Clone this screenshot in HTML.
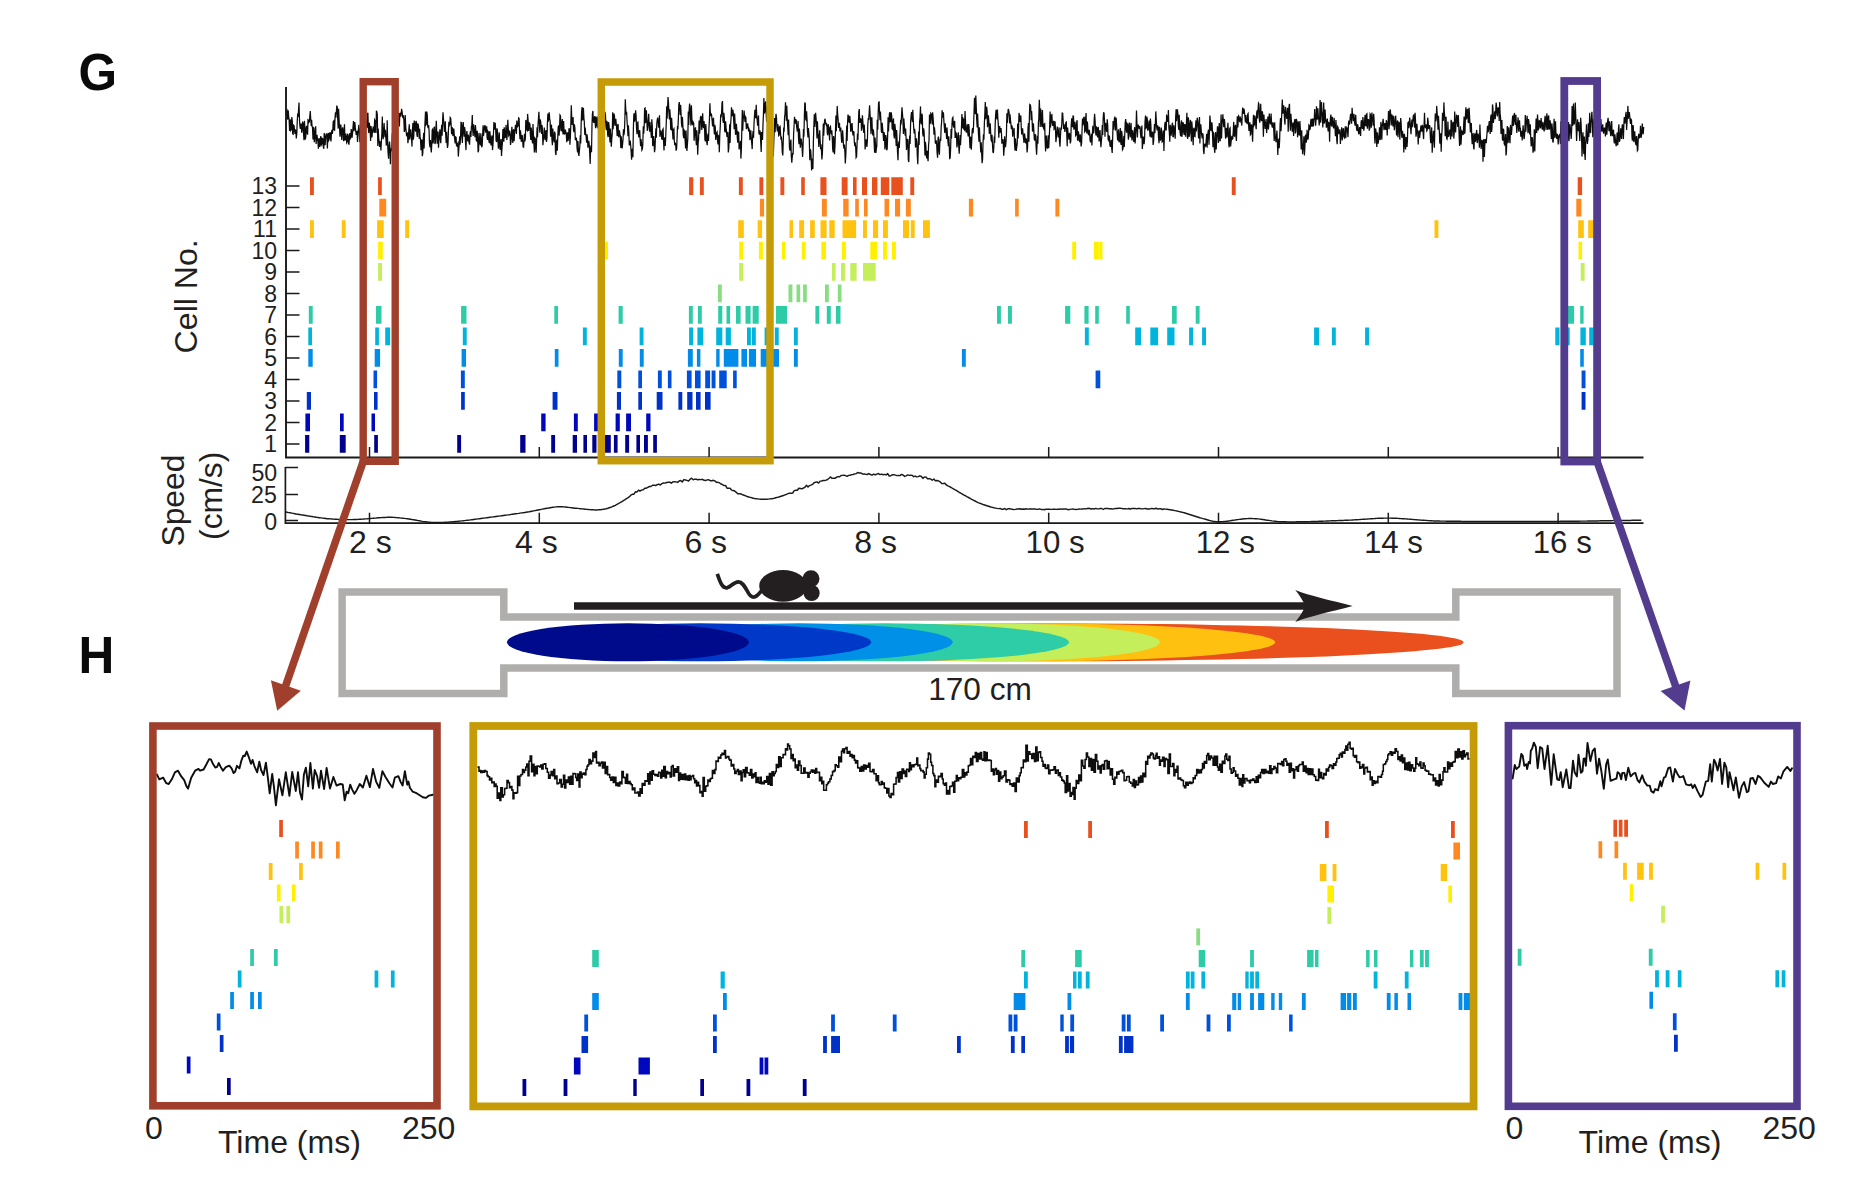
<!DOCTYPE html>
<html lang="en"><head><meta charset="utf-8"><title>Figure G-H</title>
<style>html,body{margin:0;padding:0;background:#fff;overflow:hidden;}svg{display:block;}</style>
</head><body>
<svg width="1866" height="1188" viewBox="0 0 1866 1188" font-family="Liberation Sans, Arial, Helvetica, sans-serif">
<rect width="1866" height="1188" fill="#fff"/>
<path d="M286,115.2 286.4,110.5 286.9,110 287.3,118.3 287.8,119.5 288.2,110.2 288.7,116.8 289.1,119 289.6,130.9 290,121 290.5,119.4 290.9,130.3 291.4,129.4 291.8,117.1 292.3,121.2 292.7,133.8 293.2,134.1 293.6,125.3 294.1,125.8 294.5,130.1 295,133.9 295.4,129.5 295.9,131.8 296.3,138.4 296.8,133.4 297.2,122.3 297.7,113.5 298.1,117 298.6,109.3 299,102.5 299.5,120.4 299.9,126 300.4,129 300.8,124.2 301.3,124.2 301.7,132.7 302.2,129.1 302.6,122.4 303.1,123 303.5,133.1 304,140.3 304.4,120.9 304.9,128.3 305.3,139.6 305.8,136.7 306.2,127.3 306.7,125.9 307.1,132.7 307.6,134.7 308,119.7 308.5,120.1 308.9,122.3 309.4,121.5 309.8,116.2 310.3,111 310.7,118.8 311.2,125.9 311.6,119.8 312.1,126.7 312.5,127.5 313,139.4 313.4,127.6 313.9,128.1 314.3,142.3 314.8,137.7 315.2,131.8 315.7,126.3 316.1,144 316.6,138.9 317,134.7 317.5,139.8 317.9,141.3 318.4,148.7 318.8,138.2 319.3,139.5 319.7,146.9 320.2,145.2 320.6,136.2 321.1,137.5 321.5,144.5 322,143.5 322.4,138 322.9,139.7 323.3,146.7 323.8,148.8 324.2,133.1 324.7,137.7 325.1,145.2 325.6,136.8 326,135 326.5,133.4 326.9,138 327.4,148.5 327.8,135.1 328.3,133 328.7,140.3 329.2,139.3 329.6,133 330.1,132.8 330.5,138.1 331,141.4 331.4,133.2 331.9,129.9 332.3,133.8 332.8,130.3 333.2,121.8 333.7,121.1 334.1,129.9 334.6,130.2 335,118.4 335.5,112.4 335.9,117.7 336.4,111.5 336.8,105.6 337.3,107.3 337.7,118.5 338.2,128.6 338.6,108.8 339.1,119.9 339.5,127.4 340,136.8 340.4,125.1 340.9,125.2 341.3,133.3 341.8,139.9 342.2,129.4 342.7,127.3 343.1,131.3 343.6,141.2 344,132.9 344.5,124.2 344.9,140.5 345.4,139.4 345.8,133.6 346.3,136.8 346.7,142.6 347.2,141.6 347.6,134.4 348.1,134.8 348.5,143.9 349,144.1 349.4,136.4 349.9,133.1 350.3,138.5 350.8,137.5 351.2,129.1 351.7,132.4 352.1,137.6 352.6,132.5 353,127.2 353.5,121.1 353.9,131.1 354.4,128.8 354.8,122 355.3,127.4 355.7,130.8 356.2,134.8 356.6,133.4 357.1,130.8 357.5,141.9 358,132.2 358.4,129.4 358.9,124.8 359.3,134.5 359.8,142.1 360.2,128.5 360.7,130.1 361.1,132.4 361.6,129.7 362,123.6 362.5,117 362.9,130.7 363.4,135 363.8,120.3 364.3,119.1 364.7,129.6 365.2,131.3 365.6,126.7 366.1,120.5 366.5,126 367,127.7 367.4,113.8 367.9,112.8 368.3,127.5 368.8,133.1 369.2,122.7 369.7,125.9 370.1,129.6 370.6,141 371,126.1 371.5,130.1 371.9,137.4 372.4,132.5 372.8,129.3 373.3,126.6 373.7,130.5 374.2,132.9 374.6,119.9 375.1,120.8 375.5,132.1 376,132.3 376.4,110.7 376.9,112 377.3,114.5 377.8,146 378.2,128.6 378.7,137.9 379.1,141.4 379.6,147 380,141.9 380.5,142.2 380.9,150.5 381.4,140.9 381.8,135.4 382.3,116.4 382.7,133.7 383.2,139.1 383.6,132.9 384.1,123 384.5,130.7 385,137.1 385.4,129.9 385.9,138.1 386.3,145 386.8,144.7 387.2,120.2 387.7,144.7 388.1,152.9 388.6,158.7 389,146.4 389.5,141.5 389.9,146.8 390.4,164.2 390.8,149.6 391.3,148.6 391.7,151.3 392.2,135.3 392.6,132.1 393.1,132.7 393.5,142 394,139.6 394.4,129 394.9,126.8 395.3,130.2 395.8,129.4 396.2,121.3 396.7,112.1 397.1,124 397.6,123.6 398,119.7 398.5,112.6 398.9,119.7 399.4,126.5 399.8,113.6 400.3,113.3 400.7,116.7 401.2,113 401.6,108.8 402.1,111.8 402.5,115.8 403,118 403.4,115.4 403.9,120.2 404.3,131.9 404.8,129.9 405.2,115 405.7,126.6 406.1,130.9 406.6,136.3 407,133.3 407.5,133 407.9,143.3 408.4,138.7 408.8,130 409.3,124.2 409.7,139.6 410.2,133.7 410.6,129.4 411.1,135.4 411.5,138 412,146.6 412.4,131.1 412.9,123.1 413.3,139.7 413.8,136 414.2,120.5 414.7,123.6 415.1,129.4 415.6,131.6 416,120.9 416.5,122.7 416.9,134.6 417.4,136.9 417.8,123.4 418.3,125.1 418.7,128.7 419.2,138.7 419.6,128.7 420.1,136.9 420.5,139.9 421,150.2 421.4,141 421.9,139.4 422.3,156.2 422.8,153.1 423.2,140.9 423.7,132.7 424.1,148.6 424.6,132.3 425,122.6 425.5,111.5 425.9,124.8 426.4,124 426.8,111.6 427.3,115.3 427.7,126.4 428.2,128 428.6,125 429.1,131.1 429.5,143.6 430,147.1 430.4,140.1 430.9,148.1 431.3,152.5 431.8,143.7 432.2,129.9 432.7,129.1 433.1,143.4 433.6,138.6 434,130.4 434.5,126.6 434.9,144 435.4,142.5 435.8,132.2 436.3,120.8 436.7,131.6 437.2,143.8 437.6,132.1 438.1,132.1 438.5,147.8 439,138.8 439.4,136.9 439.9,129.3 440.3,139.4 440.8,143.2 441.2,132.1 441.7,124.8 442.1,135.8 442.6,121 443,112.3 443.5,118.7 443.9,124.5 444.4,131.8 444.8,128.8 445.3,121.3 445.7,135 446.2,142.9 446.6,131.8 447.1,142.6 447.5,148 448,144.1 448.4,131 448.9,121.7 449.3,125.6 449.8,124.6 450.2,117.6 450.7,118.3 451.1,123.6 451.6,134.1 452,127.1 452.5,128.4 452.9,136 453.4,133.7 453.8,128.5 454.3,135.5 454.7,139.8 455.2,143.3 455.6,136.9 456.1,137.3 456.5,145.8 457,146.2 457.4,144 457.9,143.1 458.3,156.6 458.8,149.5 459.2,144.2 459.7,136.3 460.1,144.7 460.6,136.3 461,122.4 461.5,122.6 461.9,136.4 462.4,143 462.8,125.8 463.3,122 463.7,131.9 464.2,136.6 464.6,127 465.1,131 465.5,142.1 466,150.1 466.4,135.8 466.9,131.1 467.3,137.6 467.8,141.5 468.2,134.7 468.7,137.3 469.1,142.9 469.6,144.7 470,134.3 470.5,131.1 470.9,136.9 471.4,126.6 471.8,125.8 472.3,115 472.7,130 473.2,135.9 473.6,124.3 474.1,130 474.5,132.1 475,137.1 475.4,125 475.9,131 476.3,140.5 476.8,141 477.2,130.8 477.7,138.8 478.1,152.3 478.6,150.7 479,132.9 479.5,138.8 479.9,143 480.4,145.4 480.8,133.3 481.3,140.3 481.7,146.5 482.2,146.1 482.6,135.7 483.1,125.3 483.5,135.9 484,131.8 484.4,127.7 484.9,125.1 485.3,128.9 485.8,132.7 486.2,126.7 486.7,126.8 487.1,138 487.6,139.8 488,131.5 488.5,132.5 488.9,140.9 489.4,143.2 489.8,131.1 490.3,136 490.7,143.2 491.2,145.3 491.6,137.6 492.1,135.4 492.5,150.1 493,144.6 493.4,135.3 493.9,122.1 494.3,129.6 494.8,128.4 495.2,122.7 495.7,130.5 496.1,140.7 496.6,141.9 497,128.3 497.5,131.6 497.9,140.2 498.4,148.8 498.8,137.2 499.3,132.4 499.7,146.8 500.2,149.8 500.6,141.8 501.1,139 501.5,155.9 502,147.8 502.4,143.3 502.9,129.1 503.3,136.6 503.8,141.7 504.2,127.2 504.7,131.7 505.1,137.4 505.6,137.1 506,124.9 506.5,132.6 506.9,139.9 507.4,131.3 507.8,119.8 508.3,129.3 508.7,135.5 509.2,134.5 509.6,130.5 510.1,134.1 510.5,144.9 511,142 511.4,134.8 511.9,126.7 512.3,136.9 512.8,142.9 513.2,130.4 513.7,129.4 514.1,141.1 514.6,133.2 515,129.8 515.5,124.8 515.9,127.5 516.4,133.9 516.8,120.5 517.3,124.1 517.7,126.3 518.2,125.5 518.6,117.9 519.1,118.3 519.5,131.1 520,139.1 520.4,130.3 520.9,134.9 521.3,141.7 521.8,140.5 522.2,135 522.7,140.8 523.1,147 523.6,147.3 524,140.9 524.5,133.9 524.9,141.5 525.4,137.8 525.8,119.9 526.3,121.9 526.7,129.6 527.2,130.4 527.6,113.9 528.1,120.4 528.5,131 529,127.1 529.4,123.2 529.9,123.9 530.3,133.8 530.8,140 531.2,127.5 531.7,132 532.1,140.1 532.6,143.5 533,124.1 533.5,137.1 533.9,144.1 534.4,152.5 534.8,137.9 535.3,138.6 535.7,148.9 536.2,152.7 536.6,140.4 537.1,127.3 537.5,137.2 538,125.4 538.4,119.4 538.9,111.9 539.3,120.2 539.8,132.6 540.2,119.4 540.7,121.7 541.1,126.3 541.6,134 542,125.1 542.5,130.3 542.9,145.3 543.4,139.3 543.8,137.3 544.3,127.5 544.7,136.8 545.2,140.1 545.6,131.8 546.1,130.1 546.5,141.9 547,137.9 547.4,123.2 547.9,113.5 548.3,121.6 548.8,117.7 549.2,112.3 549.7,118.9 550.1,121 550.6,136.8 551,126.2 551.5,124.8 551.9,138.9 552.4,145.3 552.8,128.6 553.3,135.6 553.7,139.6 554.2,142.3 554.6,131.6 555.1,133.9 555.5,152.6 556,155.1 556.4,142.4 556.9,139.7 557.3,150.7 557.8,136.4 558.2,126.9 558.7,125.5 559.1,135.6 559.6,126.5 560,115.1 560.5,115.9 560.9,129.9 561.4,131.3 561.8,123 562.3,119 562.7,131.7 563.2,134.5 563.6,121 564.1,131.3 564.5,133.9 565,133.3 565.4,129.5 565.9,133 566.3,134.9 566.8,142.1 567.2,132.9 567.7,132.8 568.1,140.9 568.6,137.3 569,128.3 569.5,129.4 569.9,144.8 570.4,136.4 570.8,124.9 571.3,105.2 571.7,116.6 572.2,125 572.6,117.8 573.1,117.7 573.5,129.9 574,132.2 574.4,124.3 574.9,128 575.3,139.4 575.8,139.8 576.2,137.6 576.7,140 577.1,148.8 577.6,152.3 578,141 578.5,153.2 578.9,156 579.4,150.6 579.8,146.4 580.3,135.4 580.7,143.4 581.2,122.6 581.6,111.9 582.1,107 582.5,120.2 583,118.7 583.4,107.9 583.9,118.1 584.3,121.9 584.8,135.1 585.2,127.5 585.7,134.5 586.1,135.9 586.6,142.8 587,134.4 587.5,138.9 587.9,147.6 588.4,143.9 588.8,140.7 589.3,145.3 589.7,153.3 590.2,163.9 590.6,148.1 591.1,145.4 591.5,152.2 592,124.9 592.4,114.1 592.9,110.9 593.3,121.1 593.8,122.9 594.2,118.6 594.7,116.2 595.1,122 595.6,128.2 596,116.6 596.5,118.5 596.9,125.3 597.4,127.6 597.8,116.5 598.3,127.8 598.7,130.3 599.2,132.2 599.6,120.6 600.1,125.1 600.5,142.2 601,148.8 601.4,128 601.9,136.3 602.3,140.8 602.8,138.2 603.2,119.2 603.7,119.5 604.1,128.2 604.6,120.5 605,111.8 605.5,115.8 605.9,125.9 606.4,130.1 606.8,120.9 607.3,122.8 607.7,134.9 608.2,137.1 608.6,122 609.1,126 609.5,134 610,142.5 610.4,128.5 610.9,136.8 611.3,146.8 611.8,138.5 612.2,134.4 612.7,112.3 613.1,129.3 613.6,121.2 614,113.5 614.5,116.2 614.9,125.8 615.4,123.2 615.8,118.8 616.3,124.5 616.7,129 617.2,136.1 617.6,125.5 618.1,123.9 618.5,135.9 619,137.2 619.4,130.2 619.9,134.4 620.3,135.3 620.8,147.9 621.2,136.2 621.7,142 622.1,148.4 622.6,144.2 623,139.4 623.5,129.4 623.9,135.2 624.4,131.4 624.8,121.5 625.3,99.2 625.7,108.5 626.2,114.6 626.6,111.9 627.1,122.3 627.5,127 628,136.3 628.4,125.3 628.9,133.7 629.3,145.5 629.8,142.7 630.2,140.5 630.7,145.7 631.1,151 631.6,159.6 632,150.4 632.5,148.6 632.9,157.2 633.4,127.5 633.8,115 634.3,113.2 634.7,121.7 635.2,117.6 635.6,110.2 636.1,115.9 636.5,127.9 637,134.3 637.4,122.8 637.9,122.3 638.3,132.4 638.8,137.4 639.2,132.1 639.7,130.2 640.1,138.6 640.6,146.3 641,139.2 641.5,143.2 641.9,150 642.4,149.1 642.8,144.4 643.3,126.3 643.7,133.6 644.2,126.1 644.6,108.5 645.1,108.1 645.5,123.1 646,117.8 646.4,110.4 646.9,121.6 647.3,130.8 647.8,127.4 648.2,121 648.7,113.7 649.1,123.7 649.6,131.6 650,122 650.5,128.8 650.9,131.8 651.4,137.9 651.8,119.3 652.3,126.2 652.7,146.1 653.2,144.3 653.6,136 654.1,142.4 654.5,152.2 655,149 655.4,138.7 655.9,128.4 656.3,137.7 656.8,123.8 657.2,120.2 657.7,117.6 658.1,121.7 658.6,127.8 659,122.5 659.5,115.3 659.9,136.8 660.4,133.1 660.8,130.4 661.3,132.9 661.7,139.1 662.2,139.2 662.6,130 663.1,129.1 663.5,139.9 664,150.5 664.4,139.1 664.9,137.5 665.3,145.9 665.8,135 666.2,124.5 666.7,106.2 667.1,118.7 667.6,107.9 668,97 668.5,102.8 668.9,112.2 669.4,119.4 669.8,109.2 670.3,116.5 670.7,129.2 671.2,129.6 671.6,117.8 672.1,126.1 672.5,131.8 673,139.5 673.4,129.6 673.9,128.8 674.3,140.8 674.8,145.3 675.2,142.7 675.7,144.3 676.1,150.6 676.6,149 677,140 677.5,125.9 677.9,129.1 678.4,117.6 678.8,104.7 679.3,102 679.7,107 680.2,115 680.6,104.9 681.1,114.1 681.5,123.7 682,127.5 682.4,116.9 682.9,126.2 683.3,135.6 683.8,138 684.2,130.3 684.7,131.3 685.1,140.3 685.6,148.4 686,130.4 686.5,142.4 686.9,150.9 687.4,144.7 687.8,138.4 688.3,111.6 688.7,125 689.2,109.4 689.6,103.5 690.1,108.5 690.5,117.9 691,125.6 691.4,105.3 691.9,119.2 692.3,123.3 692.8,125.2 693.2,122.3 693.7,123.5 694.1,140.8 694.6,134.3 695,129.3 695.5,127.3 695.9,139.3 696.4,145.1 696.8,130.2 697.3,138.3 697.7,154.8 698.2,142.5 698.6,139 699.1,120.5 699.5,133.6 700,128.9 700.4,117.4 700.9,116 701.3,118.6 701.8,130 702.2,118.5 702.7,113.2 703.1,126.4 703.6,128.1 704,121 704.5,126.2 704.9,139.5 705.4,141.4 705.8,124.1 706.3,133.6 706.7,141.6 707.2,145.2 707.6,136.1 708.1,133.7 708.5,141 709,127.2 709.4,120.2 709.9,103.3 710.3,112.1 710.8,116.1 711.2,113.4 711.7,115.9 712.1,120.8 712.6,126.5 713,120 713.5,117.9 713.9,126.8 714.4,134.4 714.8,124.8 715.3,127.5 715.7,140 716.2,136.1 716.6,132.9 717.1,132 717.5,140.2 718,144.3 718.4,135.8 718.9,136.3 719.3,152.2 719.8,134.4 720.2,127.7 720.7,114.4 721.1,117.4 721.6,112.5 722,103 722.5,101.1 722.9,120.5 723.4,122.8 723.8,112.7 724.3,117.1 724.7,130.9 725.2,132.4 725.6,121.3 726.1,127.9 726.5,131.9 727,136.9 727.4,132.4 727.9,132.6 728.3,152.5 728.8,148.2 729.2,139.4 729.7,124.3 730.1,143.1 730.6,124.1 731,119.3 731.5,107.2 731.9,114.2 732.4,116.1 732.8,109.5 733.3,113 733.7,121 734.2,129.3 734.6,113.5 735.1,123 735.5,134.8 736,133.6 736.4,123.8 736.9,130.9 737.3,137.9 737.8,142.6 738.2,132.1 738.7,132.6 739.1,149.4 739.6,146.7 740,144.7 740.5,140.9 740.9,158.6 741.4,148.4 741.8,130.7 742.3,110.1 742.7,130.6 743.2,119.1 743.6,116.7 744.1,110.5 744.5,115.9 745,121.9 745.4,116.7 745.9,117.7 746.3,129 746.8,127.8 747.2,124.1 747.7,124 748.1,127.6 748.6,131.3 749,129 749.5,130.4 749.9,139.3 750.4,138.9 750.8,130.2 751.3,138.8 751.7,143 752.2,149.1 752.6,136.6 753.1,131.1 753.5,137.9 754,124.6 754.4,117.1 754.9,109.7 755.3,117.3 755.8,117.6 756.2,104.8 756.7,115 757.1,118.6 757.6,125.6 758,123.3 758.5,115.4 758.9,133.1 759.4,134.6 759.8,130.4 760.3,132.6 760.7,142.1 761.2,152 761.6,132.1 762.1,135.3 762.5,140 763,124.6 763.4,115.2 763.9,97.9 764.3,112.9 764.8,112.2 765.2,104 765.7,101.4 766.1,111.8 766.6,121.7 767,106.4 767.5,121.1 767.9,124.2 768.4,136.7 768.8,125.9 769.3,126.6 769.7,133.8 770.2,145.7 770.6,132.9 771.1,141.2 771.5,148.2 772,161.1 772.4,149 772.9,148.5 773.3,156.5 773.8,141.1 774.2,130.8 774.7,118.1 775.1,132.1 775.6,120.2 776,113.9 776.5,118 776.9,127.2 777.4,131.3 777.8,124.2 778.3,127.6 778.7,135.5 779.2,134.9 779.6,126.7 780.1,126.3 780.5,133.2 781,139.8 781.4,136.5 781.9,142.9 782.3,152.5 782.8,155.4 783.2,142.8 783.7,127.6 784.1,131.7 784.6,116.9 785,114.1 785.5,102.3 785.9,109.7 786.4,120.6 786.8,105.7 787.3,120.5 787.7,126.7 788.2,135.3 788.6,119.6 789.1,135.9 789.5,148.2 790,150.5 790.4,143.5 790.9,139.6 791.3,156.1 791.8,162.7 792.2,157.6 792.7,152.9 793.1,154.6 793.6,134.3 794,127.1 794.5,116.9 794.9,122 795.4,122.8 795.8,119.7 796.3,120 796.7,127.2 797.2,130.6 797.6,129.7 798.1,120.9 798.5,137.9 799,144.2 799.4,128.5 799.9,136.3 800.3,147.7 800.8,141.5 801.2,138.6 801.7,142.4 802.1,147.7 802.6,156.9 803,147.8 803.5,128.9 803.9,136.8 804.4,115.1 804.8,102.5 805.3,103.7 805.7,119.3 806.2,120.1 806.6,111.4 807.1,120.8 807.5,131.8 808,137.4 808.4,128 808.9,133.8 809.3,139.4 809.8,160.2 810.2,149.2 810.7,150.3 811.1,156.5 811.6,170.4 812,158.6 812.5,162.7 812.9,169 813.4,141.3 813.8,127.5 814.3,114.3 814.7,126.9 815.2,118.5 815.6,112.7 816.1,119 816.5,127 817,138.5 817.4,121.2 817.9,133.4 818.3,135.7 818.8,146.9 819.2,136.8 819.7,130.4 820.1,139.6 820.6,149.1 821,144.4 821.5,151.5 821.9,159.5 822.4,153.4 822.8,140.2 823.3,123.6 823.7,135.6 824.2,125.2 824.6,120.4 825.1,118.7 825.5,122.9 826,124.3 826.4,122.8 826.9,125.5 827.3,133.2 827.8,135.3 828.2,124.2 828.7,127.8 829.1,131.5 829.6,140.4 830,127.5 830.5,126.6 830.9,132.6 831.4,133.6 831.8,130.4 832.3,138.7 832.7,149.3 833.2,152.5 833.6,136 834.1,139.8 834.5,154.2 835,145.6 835.4,132.9 835.9,115.6 836.3,131.3 836.8,119 837.2,105.9 837.7,114.9 838.1,119.1 838.6,127.9 839,123.2 839.5,123.3 839.9,131.4 840.4,129.5 840.8,127.5 841.3,136.7 841.7,142.8 842.2,139 842.6,130.3 843.1,137.9 843.5,145.4 844,148.6 844.4,144.5 844.9,152.2 845.3,163.4 845.8,155.4 846.2,143.6 846.7,125.6 847.1,141.1 847.6,121.7 848,114.6 848.5,116.4 848.9,121.9 849.4,122.3 849.8,115.8 850.3,122.7 850.7,131.7 851.2,130 851.6,124.4 852.1,123.1 852.5,131.5 853,135.5 853.4,131.6 853.9,131.9 854.3,141.6 854.8,146.3 855.2,142.2 855.7,147.8 856.1,157.4 856.6,156.5 857,145.5 857.5,133.5 857.9,140.1 858.4,124 858.8,111.6 859.3,109 859.7,122.9 860.2,121.4 860.6,118.8 861.1,119.2 861.5,130.8 862,126.2 862.4,115.2 862.9,122 863.3,128.4 863.8,133 864.2,124.6 864.7,133.3 865.1,149.5 865.6,143 866,139.3 866.5,144 866.9,146.9 867.4,140.5 867.8,124.8 868.3,118 868.7,120 869.2,111.8 869.6,105.4 870.1,115 870.5,121.8 871,134.1 871.4,117.8 871.9,117.8 872.3,129.6 872.8,135.4 873.2,129.4 873.7,132.8 874.1,141.6 874.6,152.8 875,137.6 875.5,143.9 875.9,153 876.4,148.4 876.8,146.2 877.3,119.8 877.7,129.7 878.2,112.7 878.6,102.3 879.1,102 879.5,111.7 880,120.2 880.4,111.6 880.9,120.5 881.3,131 881.8,132.9 882.2,122.7 882.7,129.1 883.1,133.5 883.6,141 884,132.1 884.5,134.9 884.9,149.5 885.4,146.2 885.8,135.1 886.3,138.7 886.7,150.2 887.2,148.7 887.6,137.2 888.1,117.2 888.5,131.5 889,121.1 889.4,113.9 889.9,112.2 890.3,121.6 890.8,121.3 891.2,112.4 891.7,115.6 892.1,128.6 892.6,129.3 893,121.7 893.5,118.4 893.9,135.2 894.4,138.5 894.8,123.9 895.3,128.2 895.7,135.2 896.2,146 896.6,130.1 897.1,140.2 897.5,152 898,160.3 898.4,145.4 898.9,141.4 899.3,148 899.8,135.6 900.2,130.9 900.7,119.9 901.1,124.4 901.6,114 902,107.4 902.5,114 902.9,119.4 903.4,134 903.8,118.4 904.3,124.8 904.7,130.2 905.2,135.6 905.6,128.6 906.1,138.3 906.5,149.9 907,145.1 907.4,138.9 907.9,140 908.3,160 908.8,162 909.2,146.9 909.7,135.5 910.1,144 910.6,122.7 911,116.8 911.5,112 911.9,116.6 912.4,121.9 912.8,109.8 913.3,120.3 913.7,127.9 914.2,133.4 914.6,128.7 915.1,133.6 915.5,146.8 916,146.5 916.4,138.3 916.9,143.2 917.3,156 917.8,164.2 918.2,149.8 918.7,131.4 919.1,144.9 919.6,122 920,117.8 920.5,106.4 920.9,122.3 921.4,124.4 921.8,113.8 922.3,115.4 922.7,133.5 923.2,136.4 923.6,128.3 924.1,131.9 924.5,142.5 925,155.5 925.4,141.7 925.9,146.4 926.3,155.7 926.8,158.4 927.2,150.9 927.7,158.2 928.1,161.2 928.6,144.3 929,141 929.5,114.6 929.9,121.5 930.4,122.4 930.8,113.4 931.3,114.1 931.7,116.8 932.2,124.5 932.6,112.2 933.1,117.8 933.5,124.2 934,134.8 934.4,127.4 934.9,132 935.3,142.9 935.8,143.3 936.2,140.3 936.7,144.8 937.1,152.8 937.6,157.8 938,138.3 938.5,136.6 938.9,149.8 939.4,154.8 939.8,143.1 940.3,138.6 940.7,141 941.2,126.3 941.6,122.4 942.1,110.3 942.5,114.9 943,117.6 943.4,112.3 943.9,121.2 944.3,126.7 944.8,132.9 945.2,123.4 945.7,129.2 946.1,131.2 946.6,139 947,127.5 947.5,136.8 947.9,141.2 948.4,146.2 948.8,136.3 949.3,146.6 949.7,159.2 950.2,157.4 950.6,149.1 951.1,129.1 951.5,138.6 952,123.7 952.4,118.2 952.9,117.4 953.3,125.3 953.8,127.5 954.2,122 954.7,120.9 955.1,137.3 955.6,137.3 956,132.9 956.5,133.8 956.9,147.5 957.4,143.6 957.8,137.3 958.3,132.3 958.7,145.5 959.2,153.8 959.6,145.9 960.1,135 960.5,145.1 961,136.2 961.4,129.2 961.9,113.9 962.3,127.3 962.8,127.8 963.2,118.8 963.7,119.7 964.1,129.4 964.6,130 965,111 965.5,120.8 965.9,129.9 966.4,132.6 966.8,130.1 967.3,124.4 967.7,132.1 968.2,136.5 968.6,124 969.1,126.7 969.5,138.1 970,148.2 970.4,138.9 970.9,136.7 971.3,149.8 971.8,140 972.2,130.2 972.7,128.2 973.1,133.3 973.6,124.2 974,113.1 974.5,97.7 974.9,107.5 975.4,114.3 975.8,95.5 976.3,107.8 976.7,119.7 977.2,127.4 977.6,113.5 978.1,125.6 978.5,134.7 979,141.7 979.4,127.3 979.9,139.6 980.3,143.3 980.8,152.4 981.2,142.4 981.7,154.5 982.1,163.3 982.6,159 983,143.6 983.5,134.2 983.9,139.7 984.4,122.5 984.8,114.6 985.3,102.1 985.7,119.1 986.2,115.7 986.6,106.7 987.1,110.7 987.5,127.2 988,123.3 988.4,115.2 988.9,121.5 989.3,133.8 989.8,131.3 990.2,123.4 990.7,132.9 991.1,140.1 991.6,141.1 992,134.9 992.5,144.4 992.9,151.9 993.4,153 993.8,147.5 994.3,136.6 994.7,143 995.2,123.9 995.6,115.4 996.1,109.7 996.5,115.7 997,119.3 997.4,109.5 997.9,119.2 998.3,123.9 998.8,137.8 999.2,129.2 999.7,126.1 1000.1,132.6 1000.6,131.5 1001,128 1001.5,133.8 1001.9,143.6 1002.4,142 1002.8,139.1 1003.3,142.6 1003.7,155.8 1004.2,148.8 1004.6,136.3 1005.1,145.4 1005.5,147.1 1006,141.7 1006.4,135.3 1006.9,113.3 1007.3,123 1007.8,115 1008.2,109 1008.7,110.1 1009.1,112.3 1009.6,123.5 1010,114.4 1010.5,120.2 1010.9,123.7 1011.4,129.3 1011.8,125.4 1012.3,127.3 1012.7,136.7 1013.2,131.9 1013.6,130.4 1014.1,127.9 1014.5,142.7 1015,150.4 1015.4,138.4 1015.9,144.5 1016.3,150.9 1016.8,146.6 1017.2,143.6 1017.7,123.4 1018.1,138.5 1018.6,127 1019,112.9 1019.5,116 1019.9,121.9 1020.4,120.4 1020.8,115.4 1021.3,128 1021.7,134.4 1022.2,131.5 1022.6,128.4 1023.1,135.3 1023.5,137.8 1024,142.9 1024.4,133.5 1024.9,135.9 1025.3,140.8 1025.8,143.5 1026.2,138.2 1026.7,143.1 1027.1,152.5 1027.6,147.1 1028,128.1 1028.5,123.1 1028.9,141.7 1029.4,116.2 1029.8,104.4 1030.3,104.8 1030.7,106.6 1031.2,120.3 1031.6,111.1 1032.1,119.7 1032.5,131.6 1033,130 1033.4,123.4 1033.9,131.6 1034.3,139.3 1034.8,140.6 1035.2,134.2 1035.7,135.4 1036.1,146.6 1036.6,154.8 1037,145.4 1037.5,135.8 1037.9,143.7 1038.4,122.8 1038.8,119 1039.3,99.8 1039.7,109.6 1040.2,126.9 1040.6,108.6 1041.1,114.4 1041.5,123.8 1042,126.9 1042.4,109.9 1042.9,124 1043.3,127.7 1043.8,128.8 1044.2,124.1 1044.7,123.7 1045.1,139.7 1045.6,151.4 1046,136 1046.5,136 1046.9,147.2 1047.4,148.6 1047.8,144 1048.3,135.3 1048.7,148.2 1049.2,138.1 1049.6,129.7 1050.1,111.4 1050.5,127.3 1051,123.2 1051.4,115.1 1051.9,114.7 1052.3,122.1 1052.8,125.8 1053.2,123.6 1053.7,120.9 1054.1,129.2 1054.6,128.5 1055,121.2 1055.5,128.7 1055.9,142.1 1056.4,137.3 1056.8,131.8 1057.3,126.6 1057.7,132.4 1058.2,137.4 1058.6,131.8 1059.1,127.4 1059.5,141.8 1060,146.6 1060.4,137 1060.9,127.6 1061.3,129.7 1061.8,123.7 1062.2,113.1 1062.7,113.2 1063.1,120 1063.6,128.9 1064,124.1 1064.5,127.1 1064.9,132 1065.4,128.2 1065.8,122.5 1066.3,122.1 1066.7,132.4 1067.2,146.3 1067.6,127.5 1068.1,134.6 1068.5,136.5 1069,139.6 1069.4,132.8 1069.9,136.1 1070.3,143.4 1070.8,141 1071.2,125.4 1071.7,118.2 1072.1,126.3 1072.6,126.6 1073,115.4 1073.5,116.5 1073.9,129.7 1074.4,127.9 1074.8,121.7 1075.3,125.4 1075.7,135.6 1076.2,134.9 1076.6,123 1077.1,120.2 1077.5,139.4 1078,140.9 1078.4,131.4 1078.9,135.9 1079.3,138.9 1079.8,142.2 1080.2,134.3 1080.7,138.4 1081.1,146.5 1081.6,143.2 1082,131.5 1082.5,118.4 1082.9,125.5 1083.4,122.5 1083.8,117.4 1084.3,117.4 1084.7,131.8 1085.2,131.1 1085.6,119.1 1086.1,113 1086.5,131.2 1087,133.3 1087.4,121.6 1087.9,130 1088.3,134.1 1088.8,134.6 1089.2,129.9 1089.7,133.1 1090.1,140.7 1090.6,142.3 1091,137.9 1091.5,133.8 1091.9,145.5 1092.4,133.8 1092.8,126.8 1093.3,127.4 1093.7,133.4 1094.2,119.8 1094.6,113.9 1095.1,120.8 1095.5,130.9 1096,135.4 1096.4,126.4 1096.9,128.1 1097.3,136 1097.8,137.4 1098.2,126.9 1098.7,132.6 1099.1,141.5 1099.6,137.7 1100,130 1100.5,140.1 1100.9,147.3 1101.4,140.8 1101.8,136.7 1102.3,125 1102.7,135.1 1103.2,117.8 1103.6,112.2 1104.1,113.4 1104.5,121.1 1105,136.8 1105.4,122.9 1105.9,124.2 1106.3,129.2 1106.8,131.8 1107.2,119.2 1107.7,125.1 1108.1,139.3 1108.6,140.3 1109,136 1109.5,136.5 1109.9,145.2 1110.4,146.8 1110.8,143.8 1111.3,139.8 1111.7,148.2 1112.2,152.9 1112.6,140.6 1113.1,120.9 1113.5,129.8 1114,124.3 1114.4,118.8 1114.9,116.6 1115.3,130.6 1115.8,125.9 1116.2,117.8 1116.7,128 1117.1,132.3 1117.6,140.5 1118,134.8 1118.5,129.2 1118.9,141.1 1119.4,142.2 1119.8,135.2 1120.3,128.1 1120.7,142.3 1121.2,144.9 1121.6,130.8 1122.1,134.9 1122.5,149.8 1123,148.9 1123.4,141.6 1123.9,135.9 1124.3,147.1 1124.8,133.5 1125.2,122.8 1125.7,119.1 1126.1,129 1126.6,132.7 1127,123.4 1127.5,124.1 1127.9,131.7 1128.4,139.8 1128.8,125.4 1129.3,122.5 1129.7,132 1130.2,137.5 1130.6,127.5 1131.1,122.9 1131.5,135.3 1132,140.5 1132.4,130.2 1132.9,133.5 1133.3,138 1133.8,141.9 1134.2,131.2 1134.7,127.2 1135.1,143.5 1135.6,135.9 1136,129.5 1136.5,110.6 1136.9,121.8 1137.4,137.6 1137.8,127.1 1138.3,124.5 1138.7,126.5 1139.2,128.9 1139.6,126.2 1140.1,127.6 1140.5,133.8 1141,138.2 1141.4,131.2 1141.9,125.6 1142.3,149 1142.8,142.9 1143.2,137.1 1143.7,137.2 1144.1,144.1 1144.6,138.1 1145,122.2 1145.5,115.5 1145.9,128.2 1146.4,127.7 1146.8,116.7 1147.3,119.4 1147.7,130.6 1148.2,129.6 1148.6,124.9 1149.1,120.5 1149.5,128.9 1150,136.7 1150.4,118.6 1150.9,125.2 1151.3,137.1 1151.8,136.7 1152.2,132.1 1152.7,132.2 1153.1,145 1153.6,141.8 1154,133.2 1154.5,124 1154.9,133.3 1155.4,122.8 1155.8,111.4 1156.3,120.6 1156.7,127.5 1157.2,130.4 1157.6,125.4 1158.1,127.1 1158.5,137.1 1159,143.2 1159.4,126.8 1159.9,132 1160.3,140.4 1160.8,139.2 1161.2,127.6 1161.7,131 1162.1,141.9 1162.6,141.5 1163,134.2 1163.5,130.4 1163.9,151 1164.4,134.8 1164.8,124 1165.3,121.8 1165.7,129.1 1166.2,130.6 1166.6,115.6 1167.1,116.3 1167.5,121.9 1168,119.7 1168.4,110 1168.9,128.1 1169.3,131.7 1169.8,141.8 1170.2,124.9 1170.7,128.1 1171.1,135.7 1171.6,131.8 1172,125.1 1172.5,122.7 1172.9,136.7 1173.4,136.7 1173.8,125.3 1174.3,129 1174.7,133.2 1175.2,138.7 1175.6,118.2 1176.1,109.3 1176.5,121.2 1177,113.7 1177.4,109.4 1177.9,113.8 1178.3,125.7 1178.8,129.9 1179.2,114.8 1179.7,128.3 1180.1,132.1 1180.6,136.3 1181,124.1 1181.5,120.4 1181.9,137 1182.4,131.7 1182.8,122.1 1183.3,123.4 1183.7,132.5 1184.2,134.9 1184.6,124.7 1185.1,124.8 1185.5,136.7 1186,129.8 1186.4,123.2 1186.9,112.7 1187.3,137.3 1187.8,138.8 1188.2,117.3 1188.7,120 1189.1,136.8 1189.6,133.7 1190,123.8 1190.5,119.9 1190.9,130.5 1191.4,141.5 1191.8,121.6 1192.3,128.1 1192.7,136.3 1193.2,145.2 1193.6,129.2 1194.1,127.7 1194.5,136.2 1195,136.6 1195.4,129.7 1195.9,120.4 1196.3,131.5 1196.8,123.2 1197.2,117.7 1197.7,120.9 1198.1,129.9 1198.6,138.4 1199,124.1 1199.5,117 1199.9,143.4 1200.4,129.1 1200.8,124.4 1201.3,131.3 1201.7,134.8 1202.2,138.3 1202.6,133.2 1203.1,135.1 1203.5,150.8 1204,154.1 1204.4,143.8 1204.9,145.2 1205.3,146.2 1205.8,145.3 1206.2,140.2 1206.7,133.7 1207.1,147.6 1207.6,137.7 1208,132.4 1208.5,129.7 1209,144.8 1209.4,132.3 1209.9,115.5 1210.3,120.1 1210.8,130 1211.2,130.9 1211.7,122.3 1212.1,123.8 1212.6,136.6 1213,147.2 1213.5,132.8 1213.9,133.4 1214.4,149.5 1214.8,152.8 1215.3,139.5 1215.7,132.1 1216.2,149.5 1216.6,141.6 1217.1,133.5 1217.5,126.4 1218,129.1 1218.4,142.9 1218.9,129.2 1219.3,123 1219.8,140.5 1220.2,141.3 1220.7,127.5 1221.1,114.4 1221.6,138.5 1222,121.5 1222.5,120.2 1222.9,114.4 1223.4,123.9 1223.8,127.1 1224.3,119.1 1224.7,121.9 1225.2,131.1 1225.6,138.8 1226.1,130.4 1226.5,127.8 1227,137.5 1227.4,132.5 1227.9,122.9 1228.3,130.9 1228.8,144.5 1229.2,147.3 1229.7,128.7 1230.1,128.1 1230.6,146.4 1231,142.6 1231.5,138.2 1231.9,135.9 1232.4,139.7 1232.8,138.3 1233.3,130.4 1233.7,121.9 1234.2,135.7 1234.6,136.1 1235.1,126.3 1235.5,124.8 1236,135.8 1236.4,140.9 1236.9,126.7 1237.3,116.3 1237.8,127.5 1238.2,121 1238.7,116 1239.1,116.7 1239.6,121.3 1240,121.8 1240.5,117.8 1240.9,118.6 1241.4,121 1241.8,125.6 1242.3,112.8 1242.7,107.6 1243.2,113.9 1243.6,112.3 1244.1,108.7 1244.5,112.8 1245,117.5 1245.4,122.5 1245.9,115 1246.3,119.6 1246.8,123.1 1247.2,123.4 1247.7,114.1 1248.1,113.5 1248.6,124.7 1249,130.9 1249.5,123.7 1249.9,122.4 1250.4,134.7 1250.8,134.2 1251.3,125 1251.7,125.1 1252.2,132.2 1252.6,141.7 1253.1,124.1 1253.5,114.7 1254,125.4 1254.4,124.6 1254.9,115.5 1255.3,118.7 1255.8,125.6 1256.2,129.3 1256.7,112.9 1257.1,110.3 1257.6,118.5 1258,110.2 1258.5,103.2 1258.9,103.9 1259.4,120.1 1259.8,122.6 1260.3,111.9 1260.7,103.8 1261.2,120 1261.6,120.9 1262.1,111.2 1262.5,112.1 1263,123 1263.4,136.8 1263.9,114.5 1264.3,120.7 1264.8,124.6 1265.2,129 1265.7,122.7 1266.1,119 1266.6,133.1 1267,128.3 1267.5,123.5 1267.9,116.6 1268.4,129.4 1268.8,124.4 1269.3,113.5 1269.7,119.4 1270.2,123 1270.6,124.2 1271.1,113.6 1271.5,122 1272,126.3 1272.4,127.7 1272.9,122.4 1273.3,123.9 1273.8,130.7 1274.2,140.9 1274.7,122.3 1275.1,134.9 1275.6,138.2 1276,142.3 1276.5,136.4 1276.9,130.5 1277.4,142.3 1277.8,155 1278.3,140.3 1278.7,139.6 1279.2,148.2 1279.6,141.1 1280.1,124.2 1280.5,118.1 1281,131.2 1281.4,124 1281.9,108.6 1282.3,99.6 1282.8,113.6 1283.2,111.1 1283.7,105.2 1284.1,110.6 1284.6,121 1285,124.6 1285.5,106.9 1285.9,109 1286.4,116.2 1286.8,119 1287.3,112.7 1287.7,107.7 1288.2,131.8 1288.6,118.4 1289.1,105.4 1289.5,103.8 1290,123 1290.4,130.6 1290.9,113.7 1291.3,120.1 1291.8,125.2 1292.2,131.6 1292.7,127.5 1293.1,122.6 1293.6,135.9 1294,126.2 1294.5,121.2 1294.9,119.1 1295.4,133.5 1295.8,131.5 1296.3,118.8 1296.7,120.4 1297.2,125.8 1297.6,137.2 1298.1,121.5 1298.5,123.2 1299,134.3 1299.4,135.6 1299.9,121.1 1300.3,128.5 1300.8,138 1301.2,149.5 1301.7,130.2 1302.1,139.7 1302.6,154.2 1303,148.8 1303.5,145 1303.9,136.2 1304.4,155.4 1304.8,148.8 1305.3,136.7 1305.7,134.6 1306.2,142.7 1306.6,140.2 1307.1,129.8 1307.5,135.9 1308,139.7 1308.4,136.4 1308.9,125.2 1309.3,125.8 1309.8,129.5 1310.2,129.1 1310.7,121 1311.1,118.8 1311.6,125.3 1312,126.8 1312.5,119.2 1312.9,119.2 1313.4,126.4 1313.8,119.7 1314.3,118.5 1314.7,109.1 1315.2,119.9 1315.6,125.8 1316.1,119.3 1316.5,106.2 1317,118 1317.4,119.5 1317.9,108.2 1318.3,116.1 1318.8,119.7 1319.2,125.5 1319.7,116.6 1320.1,100.1 1320.6,122.6 1321,119.2 1321.5,101.9 1321.9,112.2 1322.4,115.1 1322.8,127.5 1323.3,114.3 1323.7,102.6 1324.2,123.6 1324.6,121.7 1325.1,109.5 1325.5,119 1326,122 1326.4,127.7 1326.9,120.2 1327.3,118.6 1327.8,127.4 1328.2,131.4 1328.7,122.6 1329.1,122.8 1329.6,141.8 1330,125.6 1330.5,117.3 1330.9,114.5 1331.4,125.7 1331.8,126 1332.3,116.7 1332.7,122 1333.2,125.4 1333.6,128.5 1334.1,117.9 1334.5,124.6 1335,127.3 1335.4,136.3 1335.9,120.1 1336.3,126.6 1336.8,140.8 1337.2,144.2 1337.7,126.7 1338.1,127.4 1338.6,132.2 1339,134 1339.5,130.5 1339.9,129.4 1340.4,143.9 1340.8,136.9 1341.3,133.2 1341.7,127.3 1342.2,140.3 1342.6,137.4 1343.1,129.3 1343.5,128.3 1344,136.7 1344.4,137.6 1344.9,134.5 1345.3,126.4 1345.8,138.3 1346.2,131.3 1346.7,127.6 1347.1,128.3 1347.6,132.5 1348,137.1 1348.5,123.5 1348.9,120.7 1349.4,124.6 1349.8,122.9 1350.3,116.1 1350.7,113.9 1351.2,117.7 1351.6,123.7 1352.1,107.7 1352.5,114 1353,117.3 1353.4,121.2 1353.9,113.8 1354.3,118.7 1354.8,124.1 1355.2,125.6 1355.7,114.8 1356.1,122.6 1356.6,128.8 1357,130.9 1357.5,124.9 1357.9,125.2 1358.4,131.9 1358.8,134.3 1359.3,130.1 1359.7,127.1 1360.2,133.3 1360.6,135.9 1361.1,122.1 1361.5,120.2 1362,126.8 1362.4,128.9 1362.9,117 1363.3,121.8 1363.8,130.7 1364.2,127.6 1364.7,119.3 1365.1,114.9 1365.6,125.4 1366,125.7 1366.5,114.2 1366.9,113.8 1367.4,128.8 1367.8,122.8 1368.3,119.2 1368.7,120.4 1369.2,130.7 1369.6,126.5 1370.1,114 1370.5,114.7 1371,127.3 1371.4,126.8 1371.9,112.5 1372.3,116.5 1372.8,119.6 1373.2,125.6 1373.7,113.9 1374.1,120.4 1374.6,136.8 1375,143.5 1375.5,128.5 1375.9,130.1 1376.4,137.1 1376.8,147.1 1377.3,132.3 1377.7,135.4 1378.2,143.6 1378.6,139.7 1379.1,135.6 1379.5,127.3 1380,140.1 1380.4,138.1 1380.9,121.9 1381.3,125.5 1381.8,139.7 1382.2,127 1382.7,122.9 1383.1,118.7 1383.6,124.4 1384,130.3 1384.5,125 1384.9,123.1 1385.4,128.8 1385.8,129.8 1386.3,120.3 1386.7,121.5 1387.2,135.4 1387.6,125.8 1388.1,122.9 1388.5,110.9 1389,129.3 1389.4,123.6 1389.9,110.9 1390.3,109.5 1390.8,116.4 1391.2,125.4 1391.7,115 1392.1,115.2 1392.6,123.5 1393,126.4 1393.5,115.8 1393.9,123.8 1394.4,130.2 1394.8,123.7 1395.3,117.2 1395.7,115.7 1396.2,128 1396.6,135.5 1397.1,123.9 1397.5,120.4 1398,137.3 1398.4,130.5 1398.9,122.3 1399.3,122.7 1399.8,139.6 1400.2,130.5 1400.7,118.1 1401.1,122.3 1401.6,135 1402,137.9 1402.5,130.8 1402.9,134.8 1403.4,136.4 1403.8,152.6 1404.3,133.8 1404.7,136.3 1405.2,147 1405.6,149.5 1406.1,137.1 1406.5,139 1407,147 1407.4,141 1407.9,122.7 1408.3,122.3 1408.8,128.1 1409.2,124.6 1409.7,117.6 1410.1,121.5 1410.6,128.5 1411,134.2 1411.5,124.4 1411.9,119.6 1412.4,127.3 1412.8,120.7 1413.3,115.7 1413.7,115.2 1414.2,122 1414.6,127.7 1415.1,112.7 1415.5,120.8 1416,136.7 1416.4,134.2 1416.9,123.9 1417.3,129.9 1417.8,134.3 1418.2,144.4 1418.7,133.6 1419.1,130.2 1419.6,137.9 1420,134.3 1420.5,130.3 1420.9,125.6 1421.4,129.9 1421.8,131.7 1422.3,124.9 1422.7,126.3 1423.2,133.7 1423.6,139.1 1424.1,124.8 1424.5,112.7 1425,126.8 1425.4,127.4 1425.9,125.8 1426.3,124.5 1426.8,130.9 1427.2,130.3 1427.7,117.7 1428.1,120.7 1428.6,128.9 1429,127.1 1429.5,125.1 1429.9,126.9 1430.4,138.8 1430.8,143.3 1431.3,134.9 1431.7,127.4 1432.2,152.7 1432.6,143.1 1433.1,136.7 1433.5,130.9 1434,140.7 1434.4,147.8 1434.9,125.4 1435.3,113.5 1435.8,121.3 1436.2,119.2 1436.7,105.9 1437.1,112.5 1437.6,118.7 1438,129.8 1438.5,115.7 1438.9,124.2 1439.4,132.4 1439.8,143.6 1440.3,134 1440.7,133.9 1441.2,151.7 1441.6,137.4 1442.1,129.7 1442.5,112.8 1443,118.4 1443.4,120.8 1443.9,102.4 1444.3,111.6 1444.8,117.9 1445.2,136.3 1445.7,121.1 1446.1,116.8 1446.6,138.4 1447,139.1 1447.5,136.2 1447.9,121.5 1448.4,136.8 1448.8,135.2 1449.3,133.5 1449.7,129.5 1450.2,134.2 1450.6,139.5 1451.1,119.8 1451.5,121.3 1452,136.6 1452.4,128.9 1452.9,123 1453.3,122 1453.8,138.6 1454.2,133.2 1454.7,111.4 1455.1,121.9 1455.6,132.4 1456,123.6 1456.5,115.5 1456.9,115.9 1457.4,123 1457.8,127 1458.3,115.1 1458.7,123.2 1459.2,137.5 1459.6,145.9 1460.1,133.6 1460.5,126.2 1461,144.8 1461.4,137 1461.9,131.1 1462.3,131.7 1462.8,134 1463.2,134.9 1463.7,124.5 1464.1,116.5 1464.6,133.8 1465,131.7 1465.5,114.5 1465.9,107.3 1466.4,119.3 1466.8,117.4 1467.3,109.6 1467.7,109.4 1468.2,122.1 1468.6,122.9 1469.1,107.7 1469.5,115.1 1470,124.6 1470.4,132.5 1470.9,123.8 1471.3,122.9 1471.8,137.8 1472.2,144.3 1472.7,134 1473.1,133.7 1473.6,147.4 1474,149.4 1474.5,134.9 1474.9,133.3 1475.4,141.8 1475.8,139.7 1476.3,133.3 1476.7,129.9 1477.2,143 1477.6,141.1 1478.1,133.5 1478.5,136.4 1479,139 1479.4,147.7 1479.9,124.4 1480.3,135 1480.8,143.9 1481.2,149 1481.7,141.3 1482.1,139.8 1482.6,144.6 1483,161.7 1483.5,140.8 1483.9,139.1 1484.4,157.1 1484.8,145.3 1485.3,139.6 1485.7,139.4 1486.2,143.2 1486.6,138.3 1487.1,132 1487.5,125.7 1488,132.3 1488.4,130.7 1488.9,124.2 1489.3,121 1489.8,129.2 1490.2,133.9 1490.7,117.3 1491.1,114.5 1491.6,132 1492,127.6 1492.5,104.4 1492.9,107.6 1493.4,123 1493.8,118.8 1494.3,115.8 1494.7,111.2 1495.2,119.2 1495.6,113.5 1496.1,102.7 1496.5,105.5 1497,114.1 1497.4,116.5 1497.9,108.1 1498.3,107.9 1498.8,110.2 1499.2,120.9 1499.7,101.9 1500.1,113.8 1500.6,117.7 1501,133.9 1501.5,120.7 1501.9,120.6 1502.4,139.3 1502.8,140.7 1503.3,128.7 1503.7,129.8 1504.2,143.9 1504.6,144.6 1505.1,140.9 1505.5,134 1506,155.4 1506.4,152.4 1506.9,137.3 1507.3,126 1507.8,143.1 1508.2,141.9 1508.7,127.2 1509.1,131.1 1509.6,140 1510,143.2 1510.5,124.9 1510.9,130.5 1511.4,134.9 1511.8,130 1512.3,120.3 1512.7,115.5 1513.2,125.9 1513.6,123 1514.1,114.1 1514.5,113.8 1515,121.8 1515.4,124.8 1515.9,114.9 1516.3,123.8 1516.8,133 1517.2,126.7 1517.7,121.8 1518.1,117.4 1518.6,130.7 1519,131.6 1519.5,120.3 1519.9,127.2 1520.4,128.4 1520.8,136.6 1521.3,131.3 1521.7,131.7 1522.2,140.5 1522.6,134 1523.1,125.2 1523.5,131.1 1524,139 1524.4,137.6 1524.9,128.6 1525.3,115.1 1525.8,131.6 1526.2,124.6 1526.7,120.7 1527.1,115.7 1527.6,124.2 1528,133.1 1528.5,119.1 1528.9,122 1529.4,132.2 1529.8,134.3 1530.3,124.2 1530.7,137.1 1531.2,146.4 1531.6,143.5 1532.1,137.1 1532.5,138.8 1533,152.7 1533.4,150.5 1533.9,146.9 1534.3,129.2 1534.8,151.4 1535.2,135.2 1535.7,131.1 1536.1,118.4 1536.6,132.8 1537,130.2 1537.5,114.6 1537.9,120.5 1538.4,130.4 1538.8,126.2 1539.3,120.7 1539.7,120.9 1540.2,128.4 1540.6,126.5 1541.1,118.1 1541.5,123.4 1542,128.1 1542.4,129.6 1542.9,121.9 1543.3,124.6 1543.8,130 1544.2,131.4 1544.7,120.4 1545.1,115.9 1545.6,120.8 1546,129.9 1546.5,119.9 1546.9,113.3 1547.4,127.3 1547.8,129.8 1548.3,116.5 1548.7,115.4 1549.2,129.6 1549.6,127.7 1550.1,120.4 1550.5,124.3 1551,133.1 1551.4,139.1 1551.9,123.3 1552.3,127.8 1552.8,141.5 1553.2,142.5 1553.7,131.5 1554.1,118.8 1554.6,135.9 1555,138.1 1555.5,121.2 1555.9,132.6 1556.4,135.7 1556.8,138.9 1557.3,133.8 1557.7,135.3 1558.2,144.5 1558.6,137.7 1559.1,135.7 1559.5,135 1560,137.8 1560.4,144.1 1560.9,121.2 1561.3,125.5 1561.8,145.2 1562.2,143.7 1562.7,129.9 1563.1,128.8 1563.6,141 1564,141.3 1564.5,138.2 1564.9,132.7 1565.4,145.7 1565.8,144.3 1566.3,134.4 1566.7,137.4 1567.2,142.5 1567.6,140.1 1568.1,125.6 1568.5,122 1569,141.3 1569.4,132.7 1569.9,124.2 1570.3,127.5 1570.8,134 1571.2,138.9 1571.7,128.6 1572.1,106 1572.6,125.7 1573,124.5 1573.5,103.6 1573.9,118.8 1574.4,124.5 1574.8,115.6 1575.3,102.4 1575.7,114.8 1576.2,129.6 1576.6,141 1577.1,129 1577.5,119.3 1578,125.1 1578.4,131.1 1578.9,122 1579.3,130.7 1579.8,141 1580.2,128.8 1580.7,117.7 1581.1,124.1 1581.6,138.7 1582,156.6 1582.5,143.9 1582.9,132.3 1583.4,141.5 1583.8,154 1584.3,136.6 1584.7,152.9 1585.2,159.9 1585.6,144.3 1586.1,135.6 1586.5,124.2 1587,140.5 1587.4,144 1587.9,139.5 1588.3,123.2 1588.8,136.9 1589.2,131 1589.7,112.8 1590.1,129.4 1590.6,133.1 1591,122.5 1591.5,116.7 1591.9,111.7 1592.4,122.8 1592.8,137.3 1593.3,127 1593.7,118.7 1594.2,135.3 1594.6,136.6 1595.1,123.2 1595.5,120.4 1596,135.1 1596.4,139 1596.9,126.5 1597.3,133.7 1597.8,136.7 1598.2,144.4 1598.7,131.9 1599.1,128.3 1599.6,133.4 1600,137.3 1600.5,128.2 1600.9,119 1601.4,128.8 1601.8,131.7 1602.3,128.2 1602.7,124.3 1603.2,130.8 1603.6,133.6 1604.1,129.2 1604.5,127.7 1605,129.9 1605.4,136.5 1605.9,126.1 1606.3,122.5 1606.8,134.7 1607.2,129.9 1607.7,120.6 1608.1,117.9 1608.6,125.3 1609,131.2 1609.5,121.3 1609.9,126.1 1610.4,132.4 1610.8,136.3 1611.3,123.4 1611.7,121.1 1612.2,134.8 1612.6,136.2 1613.1,130.7 1613.5,129.7 1614,141 1614.4,143.4 1614.9,134.2 1615.3,138.2 1615.8,144 1616.2,146.2 1616.7,140.5 1617.1,132.6 1617.6,145.3 1618,142.1 1618.5,128.6 1618.9,124.4 1619.4,141.8 1619.8,140.4 1620.3,135.4 1620.7,128.2 1621.2,135.5 1621.6,139 1622.1,126 1622.5,124.4 1623,131 1623.4,139.1 1623.9,123.5 1624.3,117.1 1624.8,123.5 1625.2,121.6 1625.7,114.8 1626.1,111.9 1626.6,129.9 1627,122.6 1627.5,115.7 1627.9,105.9 1628.4,118.7 1628.8,114.2 1629.3,112.1 1629.7,115.7 1630.2,122 1630.6,123.9 1631.1,119.4 1631.5,119.9 1632,136.7 1632.4,140.8 1632.9,125.1 1633.3,126.4 1633.8,142.1 1634.2,138.9 1634.7,131.2 1635.1,137.3 1635.6,143.9 1636,144.4 1636.5,136 1636.9,139.1 1637.4,150.7 1637.8,150.1 1638.3,137.1 1638.7,133.8 1639.2,138.3 1639.6,137 1640.1,134.6 1640.5,125.7 1641,138 1641.4,135.8 1641.9,130.3 1642.3,123.6 1642.8,132.7 1643.2,134.3 1643.7,127" fill="none" stroke="#0c0c0c" stroke-width="1.25" stroke-linejoin="miter" stroke-miterlimit="4"/>
<path d="M310 177.2h3.9v17.7h-3.9zM378.1 177.2h3.7v17.7h-3.7zM689.1 177.2h4.2v17.7h-4.2zM699.9 177.2h3.9v17.7h-3.9zM738.9 177.2h3.9v17.7h-3.9zM759.4 177.2h3.9v17.7h-3.9zM780.4 177.2h3.9v17.7h-3.9zM801.2 177.2h3.6v17.7h-3.6zM820.4 177.2h6.1v17.7h-6.1zM841.7 177.2h5.9v17.7h-5.9zM853 177.2h3.6v17.7h-3.6zM862 177.2h5.1v17.7h-5.1zM872 177.2h5.4v17.7h-5.4zM880.8 177.2h8.5v17.7h-8.5zM891.3 177.2h11.5v17.7h-11.5zM910.3 177.2h3.9v17.7h-3.9zM1231.8 177.2h3.9v17.7h-3.9zM1577.7 177.2h4.4v17.7h-4.4z" fill="#e8501e"/>
<path d="M379.3 198.7h6.9v17.7h-6.9zM759.9 198.7h4.2v17.7h-4.2zM821.9 198.7h4.9v17.7h-4.9zM843.2 198.7h5.4v17.7h-5.4zM855.2 198.7h3.6v17.7h-3.6zM864 198.7h3.6v17.7h-3.6zM884.5 198.7h4.6v17.7h-4.6zM895 198.7h5.1v17.7h-5.1zM905.9 198.7h4.9v17.7h-4.9zM968.9 198.7h4.2v17.7h-4.2zM1015.1 198.7h3.6v17.7h-3.6zM1055.4 198.7h3.9v17.7h-3.9zM1576.3 198.7h5.1v17.7h-5.1z" fill="#ff8820"/>
<path d="M310 220.2h3.9v17.7h-3.9zM341.8 220.2h3.9v17.7h-3.9zM377.1 220.2h6.6v17.7h-6.6zM405.2 220.2h3.9v17.7h-3.9zM738.2 220.2h5.6v17.7h-5.6zM757.7 220.2h4.4v17.7h-4.4zM789.5 220.2h3.6v17.7h-3.6zM799.2 220.2h4.9v17.7h-4.9zM810.1 220.2h4.7v17.7h-4.7zM820.5 220.2h6.1v17.7h-6.1zM829.3 220.2h5.4v17.7h-5.4zM842.5 220.2h13.6v17.7h-13.6zM863 220.2h3.9v17.7h-3.9zM873 220.2h5.1v17.7h-5.1zM883 220.2h4.9v17.7h-4.9zM903 220.2h6.1v17.7h-6.1zM910.8 220.2h3.9v17.7h-3.9zM923 220.2h6.9v17.7h-6.9zM1434.5 220.2h3.9v17.7h-3.9zM1578.2 220.2h5.6v17.7h-5.6zM1588.2 220.2h5.8v17.7h-5.8z" fill="#ffc20e"/>
<path d="M378.1 241.7h4.7v17.7h-4.7zM603.8 241.7h4.2v17.7h-4.2zM739.2 241.7h4.1v17.7h-4.1zM758.9 241.7h4v17.7h-4zM781.9 241.7h3.7v17.7h-3.7zM801.9 241.7h3.7v17.7h-3.7zM821.3 241.7h4.7v17.7h-4.7zM842 241.7h3.9v17.7h-3.9zM870.3 241.7h7.1v17.7h-7.1zM883 241.7h3.9v17.7h-3.9zM892 241.7h3.9v17.7h-3.9zM1072.2 241.7h3.9v17.7h-3.9zM1093.9 241.7h5v17.7h-5zM1099.3 241.7h3.2v17.7h-3.2zM1578.5 241.7h3.6v17.7h-3.6z" fill="#fff000"/>
<path d="M378.1 263.1h3.9v17.7h-3.9zM739.2 263.1h3.9v17.7h-3.9zM832 263.1h3.6v17.7h-3.6zM841 263.1h4.2v17.7h-4.2zM850.3 263.1h6.3v17.7h-6.3zM863 263.1h12.7v17.7h-12.7zM1580.7 263.1h3.9v17.7h-3.9z" fill="#c4ee5a"/>
<path d="M717.9 284.6h3.9v17.7h-3.9zM788.5 284.6h3.9v17.7h-3.9zM796.5 284.6h3.7v17.7h-3.7zM803.1 284.6h3.7v17.7h-3.7zM825 284.6h3.8v17.7h-3.8zM837.8 284.6h3.7v17.7h-3.7z" fill="#88dd82"/>
<path d="M308.8 306.1h3.9v17.7h-3.9zM375.9 306.1h5.6v17.7h-5.6zM461.1 306.1h5.4v17.7h-5.4zM554.3 306.1h3.7v17.7h-3.7zM618.6 306.1h4.1v17.7h-4.1zM688.9 306.1h3.9v17.7h-3.9zM697.9 306.1h3.9v17.7h-3.9zM718.2 306.1h4.1v17.7h-4.1zM726.5 306.1h3.6v17.7h-3.6zM736 306.1h4.6v17.7h-4.6zM745.5 306.1h5.1v17.7h-5.1zM752.6 306.1h6.1v17.7h-6.1zM776 306.1h11v17.7h-11zM815.4 306.1h3.8v17.7h-3.8zM826.8 306.1h4v17.7h-4zM835.9 306.1h4.6v17.7h-4.6zM997 306.1h3.9v17.7h-3.9zM1008 306.1h3.9v17.7h-3.9zM1065.1 306.1h5.2v17.7h-5.2zM1084.4 306.1h4.2v17.7h-4.2zM1095.2 306.1h3.6v17.7h-3.6zM1126.2 306.1h3.6v17.7h-3.6zM1172 306.1h4.7v17.7h-4.7zM1195.7 306.1h3.9v17.7h-3.9zM1566 306.1h8.1v17.7h-8.1zM1580.2 306.1h3.4v17.7h-3.4z" fill="#2dcca6"/>
<path d="M308.3 327.6h3.7v17.7h-3.7zM375.2 327.6h3.7v17.7h-3.7zM385.2 327.6h4.9v17.7h-4.9zM462.8 327.6h3.9v17.7h-3.9zM582.9 327.6h3.9v17.7h-3.9zM639.6 327.6h3.9v17.7h-3.9zM689.1 327.6h3.9v17.7h-3.9zM697.4 327.6h5.9v17.7h-5.9zM716.2 327.6h6.1v17.7h-6.1zM725.7 327.6h5.2v17.7h-5.2zM747 327.6h3.9v17.7h-3.9zM751.9 327.6h3.9v17.7h-3.9zM764.6 327.6h3.9v17.7h-3.9zM774.8 327.6h3.9v17.7h-3.9zM793.9 327.6h3.9v17.7h-3.9zM1084.9 327.6h3.9v17.7h-3.9zM1135.2 327.6h5.8v17.7h-5.8zM1150.3 327.6h7.8v17.7h-7.8zM1167.2 327.6h7.3v17.7h-7.3zM1189.1 327.6h3.9v17.7h-3.9zM1202.1 327.6h3.9v17.7h-3.9zM1314.1 327.6h4.9v17.7h-4.9zM1331.9 327.6h3.9v17.7h-3.9zM1365.1 327.6h3.9v17.7h-3.9zM1555.3 327.6h4.2v17.7h-4.2zM1565.5 327.6h4.2v17.7h-4.2zM1580.4 327.6h5.4v17.7h-5.4zM1589.2 327.6h4.3v17.7h-4.3z" fill="#00b4dc"/>
<path d="M308.3 349.1h4.4v17.7h-4.4zM374.7 349.1h5.4v17.7h-5.4zM461.6 349.1h4.4v17.7h-4.4zM554.8 349.1h3.7v17.7h-3.7zM618.8 349.1h3.9v17.7h-3.9zM639.8 349.1h3.9v17.7h-3.9zM687.9 349.1h4.9v17.7h-4.9zM696.9 349.1h3.5v17.7h-3.5zM716.2 349.1h3.4v17.7h-3.4zM723.8 349.1h14.6v17.7h-14.6zM741.4 349.1h5.6v17.7h-5.6zM748.9 349.1h7.1v17.7h-7.1zM760.7 349.1h18.3v17.7h-18.3zM793.9 349.1h3.9v17.7h-3.9zM961.9 349.1h3.9v17.7h-3.9zM1580.2 349.1h3.6v17.7h-3.6z" fill="#008ce8"/>
<path d="M373.5 370.6h3.6v17.7h-3.6zM460.9 370.6h3.9v17.7h-3.9zM617.3 370.6h4v17.7h-4zM638.3 370.6h3.7v17.7h-3.7zM657.9 370.6h3.9v17.7h-3.9zM667.9 370.6h3.6v17.7h-3.6zM686.9 370.6h4.7v17.7h-4.7zM695 370.6h5.6v17.7h-5.6zM705.2 370.6h4.9v17.7h-4.9zM711.6 370.6h3.9v17.7h-3.9zM719.2 370.6h7.5v17.7h-7.5zM733.1 370.6h3.6v17.7h-3.6zM1095.6 370.6h4.7v17.7h-4.7zM1581.6 370.6h3.9v17.7h-3.9z" fill="#0050dc"/>
<path d="M306.8 392.1h4.2v17.7h-4.2zM374 392.1h3.6v17.7h-3.6zM461.1 392.1h3.7v17.7h-3.7zM552.6 392.1h4.9v17.7h-4.9zM616.9 392.1h4.1v17.7h-4.1zM638.3 392.1h3.7v17.7h-3.7zM656.7 392.1h5.8v17.7h-5.8zM678.4 392.1h3.9v17.7h-3.9zM687.2 392.1h5.3v17.7h-5.3zM696 392.1h4.6v17.7h-4.6zM705 392.1h5.6v17.7h-5.6zM1581.6 392.1h3.9v17.7h-3.9z" fill="#0032c8"/>
<path d="M305.4 413.6h4.6v17.7h-4.6zM340 413.6h3.7v17.7h-3.7zM371.5 413.6h3.5v17.7h-3.5zM541.2 413.6h4.4v17.7h-4.4zM573.9 413.6h3.9v17.7h-3.9zM594.1 413.6h3.9v17.7h-3.9zM615.6 413.6h4.2v17.7h-4.2zM626.1 413.6h4.9v17.7h-4.9zM646.2 413.6h4.3v17.7h-4.3z" fill="#0008be"/>
<path d="M305.1 435.1h4.2v17.7h-4.2zM339.8 435.1h5.9v17.7h-5.9zM374.2 435.1h3.7v17.7h-3.7zM457.2 435.1h3.9v17.7h-3.9zM520.2 435.1h5.3v17.7h-5.3zM551.2 435.1h3.9v17.7h-3.9zM572.7 435.1h4.3v17.7h-4.3zM583.4 435.1h3.6v17.7h-3.6zM592.3 435.1h4.2v17.7h-4.2zM603 435.1h7.8v17.7h-7.8zM613.9 435.1h3.7v17.7h-3.7zM625.2 435.1h3.9v17.7h-3.9zM636.4 435.1h3.6v17.7h-3.6zM644 435.1h3.9v17.7h-3.9zM653.2 435.1h3.7v17.7h-3.7z" fill="#00008c"/>
<g stroke="#1a1a1a" stroke-width="1.9" fill="none">
<path d="M286 87V457.5H1643.5"/>
</g>
<g stroke="#1a1a1a" stroke-width="1.5" fill="none">
<path d="M286 444H299.5M286 422.5H299.5M286 401H299.5M286 379.5H299.5M286 358H299.5M286 336.5H299.5M286 315H299.5M286 293.5H299.5M286 272H299.5M286 250.5H299.5M286 229H299.5M286 207.5H299.5M286 186H299.5M369.5 457.5V447M369.5 523V512.8M539.3 457.5V447M539.3 523V512.8M709.1 457.5V447M709.1 523V512.8M878.9 457.5V447M878.9 523V512.8M1048.7 457.5V447M1048.7 523V512.8M1218.5 457.5V447M1218.5 523V512.8M1388.3 457.5V447M1388.3 523V512.8M1558.1 457.5V447M1558.1 523V512.8M285.4 467.6H298M285.4 494.5H298M285.4 520.5H298"/>
</g>
<path d="M285.4 467V523.2H1643.5" stroke="#1a1a1a" stroke-width="1.7" fill="none"/>
<path d="M285.6,512 287.1,512.3 288.7,512.6 290.2,512.8 291.7,513.1 293.3,513.4 294.8,513.7 296.4,514 297.9,514.2 299.4,514.5 301,514.8 302.5,515 304,515.2 305.6,515.5 307.1,515.8 308.7,516 310.2,516.3 311.8,516.5 313.3,516.8 314.9,517 316.4,517.3 318,517.5 319.5,517.7 321.1,517.9 322.6,518.1 324.2,518.3 325.7,518.5 327.3,518.7 328.8,518.8 330.3,518.9 331.9,519 333.4,519.1 335,519.2 336.5,519.3 338,519.4 339.6,519.4 341.1,519.5 342.7,519.5 344.2,519.6 345.8,519.6 347.3,519.6 348.8,519.6 350.4,519.6 351.9,519.6 353.5,519.5 355,519.5 356.5,519.5 358.1,519.4 359.6,519.3 361.1,519.2 362.7,519.1 364.2,519 365.8,518.9 367.3,518.8 368.8,518.6 370.4,518.5 371.9,518.4 373.4,518.2 375,518.1 376.5,518 378,517.8 379.6,517.7 381.1,517.6 382.7,517.5 384.2,517.4 385.7,517.4 387.3,517.3 388.8,517.3 390.4,517.3 391.9,517.3 393.5,517.4 395,517.5 396.6,517.6 398.1,517.7 399.7,517.9 401.3,518.1 402.8,518.2 404.4,518.4 405.9,518.6 407.5,518.8 409,519 410.5,519.2 412,519.5 413.5,519.7 415,520 416.5,520.3 418,520.6 419.5,520.8 421,521.1 422.5,521.4 424,521.6 425.5,521.8 427,522 428.5,522.2 430,522.3 431.5,522.4 433,522.5 434.5,522.5 436,522.5 437.5,522.5 439,522.5 440.5,522.5 442,522.4 443.5,522.4 445,522.3 446.5,522.2 448,522.1 449.5,522 451,521.9 452.5,521.8 454,521.7 455.5,521.5 457,521.4 458.5,521.2 460,521.1 461.5,520.9 463,520.8 464.5,520.6 466,520.4 467.5,520.2 469,520.1 470.5,519.9 472,519.7 473.5,519.5 475,519.3 476.5,519.1 478,518.9 479.5,518.7 481,518.5 482.5,518.3 484,518.1 485.5,517.9 487,517.7 488.5,517.5 490,517.3 491.5,517.1 493,516.9 494.5,516.7 496,516.5 497.5,516.3 499,516.1 500.5,515.9 502,515.7 503.5,515.5 505,515.3 506.5,515.1 508,514.9 509.6,514.7 511.1,514.4 512.6,514.2 514.1,514 515.6,513.8 517.1,513.6 518.6,513.4 520.1,513.1 521.6,512.9 523.1,512.7 524.6,512.5 526.1,512.2 527.6,512 529.1,511.8 530.6,511.5 532.1,511.2 533.6,510.9 535.1,510.6 536.6,510.3 538.1,510 539.6,509.7 541.1,509.4 542.6,509.1 544.1,508.8 545.6,508.5 547.1,508.2 548.6,508 550.1,507.7 551.6,507.5 553.1,507.3 554.6,507.1 556.1,506.9 557.6,506.8 559.2,506.7 560.7,506.7 562.3,506.8 563.8,506.9 565.4,507 567,507.2 568.5,507.4 570.1,507.6 571.6,507.8 573.2,508 574.7,508.2 576.3,508.3 577.8,508.4 579.3,508.6 580.8,508.7 582.3,508.9 583.8,509 585.3,509.2 586.8,509.4 588.3,509.5 589.8,509.6 591.3,509.7 592.8,509.8 594.3,509.9 595.8,509.9 597.3,509.9 598.8,509.8 600.3,509.7 601.8,509.5 603.3,509.3 604.8,509 606.3,508.7 607.8,508.3 609.3,507.8 610.8,507.3 612.3,506.7 613.8,506 615.3,505.3 616.9,504.4 618.4,503.6 620,502.7 621.5,501.8 623,500.8 624.6,499.8 626.1,498.8 627.7,497.9 629.2,496.9 630.8,495.2 632.3,494.3 633.8,494.3 635.4,491.8 636.9,492.1 638.5,490.1 640,491.2 641.6,490 643.1,489.9 644.7,488.3 646.3,488.2 647.8,487.3 649.4,486.5 651,486.5 652.5,485.3 654.1,485.3 655.7,485.5 657.2,484.7 658.8,484.1 660.4,485.1 661.9,483.6 663.5,483 665.1,483.1 666.6,482.5 668.2,482.3 669.8,482.1 671.3,483.2 672.9,481.9 674.5,481.8 676,481.9 677.6,482.4 679.2,481 680.7,480.5 682.3,482 683.8,479.6 685.4,480 687,480.4 688.5,481.1 690.1,479.2 691.6,478.2 693.2,479.8 694.7,479.1 696.3,479.2 697.9,479.7 699.4,479.5 701,479.6 702.5,479.3 704.1,480.3 705.6,480.5 707.2,479.9 708.8,479.8 710.3,480.7 711.9,480.8 713.4,480.3 715,481 716.5,482.4 718,482.3 719.5,482.9 721,484 722.5,484.7 724,485.6 725.5,485.4 727,488.2 728.5,488.2 730,488.3 731.6,490.1 733.1,490.5 734.7,491 736.3,492.4 737.8,493.8 739.4,493.6 741,494 742.5,494.7 744.1,495.3 745.7,495.9 747.2,496.5 748.8,497 750.3,497.4 751.8,497.8 753.3,498.2 754.8,498.5 756.3,498.7 757.8,498.9 759.3,499.1 760.8,499.2 762.3,499.3 763.8,499.3 765.3,499.3 766.8,499.2 768.3,499.1 769.8,498.9 771.3,498.7 772.8,498.5 774.3,498.2 775.8,497.8 777.3,497.4 778.8,497 780.3,496.5 781.9,496 783.4,495.5 785,494.9 786.5,494.3 788,493.7 789.6,493.1 791.1,493.3 792.7,493 794.2,490.6 795.8,490.3 797.3,490.3 798.8,488.3 800.4,488.5 801.9,488.8 803.5,488 805,487.2 806.5,485.3 808,487.1 809.5,485.6 811,485.1 812.5,484.4 814,482.7 815.5,482.3 817.1,481.9 818.6,483.1 820.1,481.1 821.6,481 823.1,480.5 824.6,480.5 826.1,480.1 827.6,479.5 829.1,478.3 830.6,476.9 832.1,478.4 833.6,478.1 835.1,478.3 836.6,477.2 838.1,476.6 839.6,476.8 841.1,475.5 842.6,475.4 844.1,475.2 845.6,475.6 847.1,476.3 848.6,475.4 850.1,475.3 851.6,474.6 853.1,474.5 854.6,473.9 856.1,473.8 857.6,472.5 859.2,473 860.8,472.9 862.4,474 864,473.9 865.6,474.3 867.2,474.5 868.8,473.6 870.4,474.5 872,475.1 873.6,474.1 875.2,474.8 876.8,474.2 878.4,473.5 880,474.6 881.5,474.1 883.1,474.7 884.6,474.4 886.2,474.9 887.7,473.6 889.2,476 890.8,475.7 892.3,474.8 893.8,474.6 895.4,475.1 896.9,475.6 898.5,475.5 900,475.6 901.5,474.4 903,475 904.6,476.4 906.1,475.8 907.6,474.9 909.1,475.4 910.7,475.1 912.2,475.4 913.7,476.7 915.2,476.1 916.8,476.9 918.3,476.6 919.8,475.8 921.4,476.5 922.9,478.4 924.4,477 926,477.1 927.5,478.8 929.1,478.6 930.7,479 932.2,480.3 933.8,479 935.4,480.7 937,480.5 938.5,480.9 940.1,481.8 941.7,483.6 943.2,483.5 944.8,483.3 946.4,485 947.9,485.8 949.5,486.6 951.1,487.5 952.6,488.4 954.2,489.3 955.8,490.2 957.4,491.2 958.9,492.1 960.5,493 962.1,494 963.6,494.8 965.2,495.7 966.8,496.6 968.5,497.5 970.1,498.4 971.7,499.3 973.4,500.2 975,501 976.6,501.8 978.2,502.6 979.9,503.3 981.5,503.9 983.1,504.5 984.6,505 986.2,505.5 987.7,506 989.3,506.5 990.9,507 992.4,507.4 994,507.8 995.6,508.1 997.1,508.4 998.7,508.6 1000.2,508.4 1001.8,509.3 1003.3,509.2 1004.8,508.5 1006.3,509.7 1007.9,508.8 1009.4,508.6 1010.9,509 1012.4,509.3 1013.9,509.6 1015.4,509.4 1016.9,509 1018.4,509 1020,508.7 1021.5,509.2 1023,509 1024.5,509.3 1026,508.8 1027.5,509.1 1029,509 1030.6,508.9 1032.1,508.9 1033.6,509 1035.1,508.9 1036.6,509.4 1038.1,509.3 1039.6,508.9 1041.1,509.4 1042.7,509.4 1044.2,509.7 1045.7,509.2 1047.2,509.2 1048.7,509.1 1050.2,509.3 1051.7,509.4 1053.3,509.3 1054.8,509.2 1056.3,509.4 1057.8,509.2 1059.3,509.3 1060.8,508.9 1062.3,509.2 1063.8,508.9 1065.4,508.9 1066.9,509.2 1068.4,509.8 1069.9,509.4 1071.4,509.1 1072.9,509 1074.4,509.4 1076,509.5 1077.5,509.4 1079,509 1080.5,509.1 1082,508.9 1083.5,508.9 1085,508.7 1086.5,508.9 1088.1,508.3 1089.6,508.5 1091.1,509 1092.6,508.6 1094.1,509 1095.6,508.4 1097.1,508.7 1098.7,508.9 1100.2,508.5 1101.7,508.5 1103.2,509.5 1104.7,508.5 1106.2,508.5 1107.7,508.5 1109.2,508.7 1110.8,508.7 1112.3,509 1113.8,508.9 1115.3,508.5 1116.8,508.5 1118.3,508.2 1119.8,508.2 1121.4,508.4 1122.9,508.8 1124.4,508.6 1125.9,508.8 1127.4,508.9 1128.9,508.5 1130.4,509.2 1131.9,508.4 1133.5,508.4 1135,508.4 1136.5,508.9 1138,508.5 1139.5,508.4 1141,508.7 1142.5,508.9 1144.1,508.6 1145.6,508.5 1147.1,509 1148.6,508.9 1150.1,508.9 1151.6,508.4 1153.1,508.8 1154.6,508.8 1156.2,508.2 1157.7,509.1 1159.2,508.8 1160.7,508.7 1162.3,509.5 1163.8,509 1165.4,509.1 1166.9,509.3 1168.5,509.5 1170.1,509.7 1171.6,510 1173.2,510.3 1174.8,510.6 1176.3,510.9 1177.9,511.3 1179.4,511.6 1181,512 1182.6,512.4 1184.1,512.8 1185.7,513.2 1187.3,513.7 1188.8,514.2 1190.4,514.7 1192,515.2 1193.6,515.7 1195.1,516.2 1196.7,516.7 1198.3,517.2 1199.8,517.7 1201.4,518.1 1203,518.6 1204.7,519 1206.3,519.5 1207.9,520 1209.6,520.5 1211.2,520.9 1212.8,521.3 1214.4,521.5 1216.1,521.7 1217.7,521.8 1219.3,521.8 1220.8,521.7 1222.4,521.6 1223.9,521.5 1225.5,521.4 1227,521.2 1228.6,521 1230.1,520.8 1231.7,520.5 1233.2,520.3 1234.8,520.1 1236.3,519.8 1237.9,519.6 1239.4,519.4 1241,519.2 1242.5,519 1244.1,518.8 1245.6,518.7 1247.2,518.6 1248.7,518.5 1250.3,518.5 1251.9,518.5 1253.4,518.6 1255,518.7 1256.5,518.8 1258.1,518.9 1259.6,519.1 1261.2,519.3 1262.7,519.5 1264.3,519.7 1265.8,520 1267.4,520.2 1268.9,520.4 1270.5,520.6 1272,520.9 1273.6,521.1 1275.1,521.2 1276.7,521.4 1278.2,521.6 1279.8,521.7 1281.3,521.8 1282.9,521.8 1284.4,521.8 1285.9,521.8 1287.4,521.9 1289,521.9 1290.5,521.9 1292,521.9 1293.5,521.9 1295,521.9 1296.5,521.8 1298,521.8 1299.6,521.8 1301.1,521.8 1302.6,521.8 1304.1,521.7 1305.6,521.7 1307.1,521.7 1308.6,521.6 1310.2,521.6 1311.7,521.5 1313.2,521.5 1314.7,521.5 1316.2,521.4 1317.7,521.4 1319.2,521.3 1320.7,521.2 1322.3,521.2 1323.8,521.1 1325.3,521.1 1326.8,521 1328.3,521 1329.8,520.9 1331.3,520.8 1332.9,520.8 1334.4,520.7 1335.9,520.7 1337.4,520.6 1338.9,520.5 1340.4,520.5 1341.9,520.4 1343.5,520.4 1345,520.3 1346.5,520.3 1348,520.2 1349.5,520.1 1351,520.1 1352.5,520 1354,519.9 1355.6,519.8 1357.1,519.7 1358.6,519.6 1360.1,519.5 1361.6,519.4 1363.1,519.3 1364.6,519.2 1366.1,519.1 1367.6,519 1369.2,518.9 1370.7,518.8 1372.2,518.7 1373.7,518.6 1375.2,518.5 1376.7,518.4 1378.2,518.3 1379.7,518.3 1381.2,518.2 1382.8,518.2 1384.3,518.1 1385.8,518.1 1387.3,518.1 1388.8,518.1 1390.3,518.1 1391.9,518.2 1393.4,518.2 1394.9,518.3 1396.4,518.3 1398,518.4 1399.5,518.5 1401,518.6 1402.6,518.7 1404.1,518.8 1405.6,518.9 1407.1,519 1408.7,519.1 1410.2,519.2 1411.7,519.4 1413.2,519.5 1414.8,519.6 1416.3,519.7 1417.8,519.9 1419.4,520 1420.9,520.1 1422.4,520.2 1423.9,520.3 1425.5,520.4 1427,520.5 1428.5,520.6 1430.1,520.7 1431.6,520.8 1433.1,520.9 1434.6,520.9 1436.2,521 1437.7,521 1439.2,521 1440.7,521.1 1442.2,521.1 1443.7,521.1 1445.2,521.1 1446.7,521.2 1448.2,521.2 1449.7,521.2 1451.2,521.2 1452.7,521.3 1454.2,521.3 1455.7,521.3 1457.2,521.3 1458.7,521.3 1460.2,521.3 1461.7,521.4 1463.2,521.4 1464.7,521.4 1466.2,521.4 1467.7,521.4 1469.2,521.4 1470.7,521.4 1472.2,521.5 1473.7,521.5 1475.2,521.5 1476.7,521.5 1478.2,521.5 1479.7,521.5 1481.2,521.5 1482.7,521.5 1484.2,521.5 1485.7,521.5 1487.2,521.5 1488.7,521.5 1490.2,521.5 1491.7,521.5 1493.2,521.5 1494.7,521.5 1496.2,521.5 1497.7,521.5 1499.2,521.5 1500.7,521.5 1502.2,521.5 1503.7,521.5 1505.2,521.5 1506.7,521.5 1508.2,521.5 1509.7,521.5 1511.2,521.5 1512.7,521.5 1514.2,521.5 1515.7,521.5 1517.2,521.5 1518.7,521.5 1520.2,521.5 1521.7,521.5 1523.2,521.5 1524.7,521.5 1526.2,521.5 1527.7,521.5 1529.2,521.5 1530.7,521.5 1532.2,521.5 1533.7,521.5 1535.2,521.5 1536.7,521.5 1538.2,521.5 1539.7,521.4 1541.2,521.4 1542.7,521.4 1544.2,521.4 1545.7,521.4 1547.2,521.4 1548.7,521.4 1550.2,521.4 1551.7,521.4 1553.2,521.4 1554.7,521.4 1556.3,521.4 1557.8,521.4 1559.3,521.4 1560.8,521.3 1562.3,521.3 1563.8,521.3 1565.4,521.3 1566.9,521.3 1568.4,521.3 1569.9,521.3 1571.4,521.2 1573,521.2 1574.5,521.2 1576,521.2 1577.5,521.2 1579,521.2 1580.6,521.1 1582.1,521.1 1583.6,521.1 1585.1,521.1 1586.6,521.1 1588.1,521 1589.7,521 1591.2,521 1592.7,521 1594.2,520.9 1595.7,520.9 1597.3,520.9 1598.8,520.9 1600.3,520.8 1601.8,520.8 1603.3,520.8 1604.9,520.8 1606.4,520.7 1607.9,520.7 1609.4,520.7 1610.9,520.7 1612.4,520.6 1614,520.6 1615.5,520.6 1617,520.6 1618.5,520.5 1620,520.5 1621.6,520.5 1623.1,520.5 1624.6,520.4 1626.1,520.4 1627.6,520.4 1629.2,520.4 1630.7,520.4 1632.2,520.3 1633.7,520.3 1635.2,520.3 1636.7,520.3 1638.3,520.2 1639.8,520.2 1641.3,520.2" stroke="#1a1a1a" stroke-width="1.45" fill="none" stroke-linejoin="round"/>
<text transform="translate(277 452.3) scale(0.975 1)" font-size="23.6" text-anchor="end" fill="#231f20">1</text>
<text transform="translate(277 430.8) scale(0.975 1)" font-size="23.6" text-anchor="end" fill="#231f20">2</text>
<text transform="translate(277 409.3) scale(0.975 1)" font-size="23.6" text-anchor="end" fill="#231f20">3</text>
<text transform="translate(277 387.8) scale(0.975 1)" font-size="23.6" text-anchor="end" fill="#231f20">4</text>
<text transform="translate(277 366.3) scale(0.975 1)" font-size="23.6" text-anchor="end" fill="#231f20">5</text>
<text transform="translate(277 344.8) scale(0.975 1)" font-size="23.6" text-anchor="end" fill="#231f20">6</text>
<text transform="translate(277 323.3) scale(0.975 1)" font-size="23.6" text-anchor="end" fill="#231f20">7</text>
<text transform="translate(277 301.8) scale(0.975 1)" font-size="23.6" text-anchor="end" fill="#231f20">8</text>
<text transform="translate(277 280.3) scale(0.975 1)" font-size="23.6" text-anchor="end" fill="#231f20">9</text>
<text transform="translate(277 258.8) scale(0.975 1)" font-size="23.6" text-anchor="end" fill="#231f20">10</text>
<text transform="translate(277 237.3) scale(0.975 1)" font-size="23.6" text-anchor="end" fill="#231f20">11</text>
<text transform="translate(277 215.8) scale(0.975 1)" font-size="23.6" text-anchor="end" fill="#231f20">12</text>
<text transform="translate(277 194.3) scale(0.975 1)" font-size="23.6" text-anchor="end" fill="#231f20">13</text>
<text transform="translate(277.2 481.2)" font-size="23.2" text-anchor="end" fill="#231f20">50</text>
<text transform="translate(276.8 503.3)" font-size="23.2" text-anchor="end" fill="#231f20">25</text>
<text transform="translate(277.2 530)" font-size="23.2" text-anchor="end" fill="#231f20">0</text>
<text transform="translate(197.2 296.3) rotate(-90) scale(1.010 1)" font-size="31.8" text-anchor="middle" fill="#231f20">Cell No.</text>
<text transform="translate(183.7 500.6) rotate(-90) scale(1.010 1)" font-size="31.5" text-anchor="middle" fill="#231f20">Speed</text>
<text transform="translate(221.8 495.8) rotate(-90) scale(1.010 1)" font-size="31.5" text-anchor="middle" fill="#231f20">(cm/s)</text>
<text transform="translate(349 552.8) scale(1.050 1)" font-size="30.5" text-anchor="start" fill="#231f20">2 s</text>
<text transform="translate(515 552.8) scale(1.050 1)" font-size="30.5" text-anchor="start" fill="#231f20">4 s</text>
<text transform="translate(684.4 552.8) scale(1.050 1)" font-size="30.5" text-anchor="start" fill="#231f20">6 s</text>
<text transform="translate(854.2 552.8) scale(1.050 1)" font-size="30.5" text-anchor="start" fill="#231f20">8 s</text>
<text transform="translate(1025.6 552.8) scale(1.025 1)" font-size="30.5" text-anchor="start" fill="#231f20">10 s</text>
<text transform="translate(1195.7 552.8) scale(1.025 1)" font-size="30.5" text-anchor="start" fill="#231f20">12 s</text>
<text transform="translate(1363.9 552.8) scale(1.025 1)" font-size="30.5" text-anchor="start" fill="#231f20">14 s</text>
<text transform="translate(1532.7 552.8) scale(1.025 1)" font-size="30.5" text-anchor="start" fill="#231f20">16 s</text>
<text transform="translate(78.5 90.2) scale(0.955 1)" font-size="51.9" text-anchor="start" font-weight="bold" fill="#0a0a0a">G</text>
<text transform="translate(78.5 672.9) scale(0.955 1)" font-size="51.9" text-anchor="start" font-weight="bold" fill="#0a0a0a">H</text>
<path d="M503.8 617.1V592H342.1V693.5H503.8V668.1H1455.8V693.5H1617V592H1455.8V617.1Z" fill="none" stroke="#afaeac" stroke-width="7.5" stroke-linejoin="miter"/>
<ellipse cx="1043.7" cy="642.3" rx="420" ry="19" fill="#e9501d"/>
<ellipse cx="1031.5" cy="642.3" rx="243.6" ry="19" fill="#ffc110"/>
<ellipse cx="990" cy="642.3" rx="169.9" ry="19" fill="#c5ee5b"/>
<ellipse cx="884.5" cy="642.3" rx="184.5" ry="19" fill="#2ecda7"/>
<ellipse cx="799.7" cy="642.3" rx="153" ry="19" fill="#0090e8"/>
<ellipse cx="700" cy="642.3" rx="171.2" ry="19" fill="#0038c8"/>
<ellipse cx="627.9" cy="642.3" rx="120.9" ry="19" fill="#000b8c"/>
<path d="M574 606H1305" stroke="#231f20" stroke-width="7.3" fill="none"/>
<path d="M1352.6 606C1330 600 1310 596 1295.3 590C1300 596 1303.5 601 1305 606C1303.5 611 1300 616 1295.3 622C1310 616 1330 612 1352.6 606Z" fill="#231f20"/>
<g fill="#231f20">
<ellipse cx="783.1" cy="585.9" rx="23.9" ry="15.8"/>
<circle cx="811.0" cy="578.8" r="8.5"/><path d="M803 580L813 584V590L803 592Z"/>
<circle cx="811.6" cy="592.9" r="8.1"/>
</g>
<path d="M717.3 573.9C719 579 720 582 721.8 584.8C723.5 587.5 725 588.3 727.5 587.6C731 586.5 734 581.8 738.3 581.8C742.5 581.8 745 587 748 592.3C750 595.8 751.5 597.3 754 597C757 596.6 759 593.5 761.5 590.8" fill="none" stroke="#231f20" stroke-width="3.7"/>
<text transform="translate(980 699.7) scale(0.995 1)" font-size="31.8" text-anchor="middle" fill="#231f20">170 cm</text>
<path d="M363.2 461.5L284.9 688" stroke="#a0402c" stroke-width="7.6" fill="none"/>
<path d="M277.2 710.7L270.9 680.3L300.8 690.7Z" fill="#a0402c"/>
<path d="M1597.1 461.5L1676.3 688" stroke="#533b8e" stroke-width="7.6" fill="none"/>
<path d="M1684.5 710.6L1660.6 690.9L1690.4 680.6Z" fill="#533b8e"/>
<rect x="363.2" y="81.7" width="32" height="379.6" fill="none" stroke="#a0402c" stroke-width="7.4"/>
<rect x="601.3" y="82" width="168.7" height="378.7" fill="none" stroke="#c59c08" stroke-width="7.5"/>
<rect x="1564.3" y="81" width="32.8" height="380.5" fill="none" stroke="#533b8e" stroke-width="7.8"/>
<path d="M157,774.6 159.3,779.3 163.2,777.7 166.3,783.2 168.7,784 171.8,779.3 174.9,772.3 178,770.7 181.1,776.2 184.2,780.1 186.5,786.3 188.1,788.6 191.2,777.7 195.1,770.7 198.5,768.9 200,770.7 203.6,769.5 206.7,763.8 209.1,759.1 210.9,759.4 212.9,763.8 215.3,767.6 217.1,766.9 218.7,763 220.7,766.9 223,770.7 225.8,767.2 229.3,765.6 231.6,768.4 233.6,773.1 235.2,771.5 237,765.8 239.4,768.4 241.4,760.6 243.3,755.7 244.8,756 246.7,751.6 248.7,756.8 251,763.8 252.6,759.9 254.4,766.1 257.2,772.3 259.3,761.7 261.1,770 263.5,775.1 265.9,762.7 267.8,777 269.7,793.3 272.2,773.9 273.9,786.3 275.9,805.3 279,779.3 282.4,795.3 285.8,772.3 289.4,795.9 292.2,772 295.8,791 298,772.3 300,792.5 302,799.5 303.9,774.6 305.9,767.6 308.2,786.3 310.4,763 312.9,788.6 314.7,770 317.1,776.2 319.1,787.8 321,770.7 324.1,789.1 326.6,767.9 330,788.6 333.4,777 336.5,785.5 340.4,784 342.7,784.4 344.7,800.3 346.6,791.7 348.2,793.3 350.2,784.7 352.1,789.4 354.4,793.8 356.7,790.2 359.8,784 362.9,787.5 366.4,775.7 369.9,787.1 373,768.9 376.1,781.6 379.3,787.8 382.4,771.1 385.5,777 389.4,783.2 392.5,787.5 394.8,777.7 398.4,776.2 400.5,781.6 402.6,785.5 404.9,771.1 407.2,784.7 408.5,781.6 409.9,787.8 412.7,791.7 415.8,792.8 419.7,795.3 422.8,797.2 425.9,797.9 429,795.6 432.9,794.8" fill="none" stroke="#0d0d0d" stroke-width="1.9" stroke-linejoin="round" stroke-linecap="round"/>
<path d="M1512.6,778.5 1514.8,765 1516.4,769 1519.2,766.6 1521.3,754 1522.7,755.6 1524.3,765.8 1526.3,764.2 1527.1,769 1528.7,761.9 1530,763.5 1530.8,750.8 1532.2,748.4 1533.9,742.6 1535.8,746.9 1537.7,768.2 1540.1,746.9 1542.2,748.4 1544.5,769 1547.7,745.8 1551.2,784.8 1553.7,754.3 1557.2,779.3 1559.1,780.1 1560.7,772.2 1562.7,787.2 1566.3,769.5 1569,788 1570.6,788 1573,760.6 1574.6,772.2 1576.9,776.4 1578.5,754.8 1580.9,772.9 1582.5,771.4 1583.6,758.7 1584.8,758.4 1585.9,765.8 1587.5,742.9 1590.4,761.1 1592.7,750.8 1594.8,748.4 1597,773.7 1599.1,758.7 1601.4,771.4 1603.8,788.8 1606.2,764.2 1607.8,759.5 1610.6,780.8 1614.1,779.3 1616.5,778.5 1617.6,772.2 1619.6,773.7 1621.2,779.3 1622.3,772.9 1624.4,772.9 1625.9,780.1 1628.3,767.7 1630.7,776.4 1633.4,773.7 1635.4,772.9 1637.5,780.1 1639.4,782.4 1642.2,775.3 1644.4,781.6 1647.3,785.6 1649.7,785.6 1651.2,791.1 1653.6,792.7 1655.2,789.1 1658,790.3 1660.3,781.2 1661.5,786.4 1663.9,777.7 1665.5,776.9 1668.2,768.2 1670.2,767.4 1672.9,781.6 1675,769 1677.3,773.7 1679.7,777.4 1681.8,776.9 1683.3,776.1 1686,784.3 1689.2,785.3 1691.2,784.3 1692.8,788 1694.7,784.8 1697.9,791.9 1700.7,797 1702.6,794.8 1705.8,781.6 1708.2,780.8 1710.2,764.2 1711.8,781.6 1714,759.8 1715.6,762.7 1717.6,770.6 1720,759 1722.1,784 1724.4,762.7 1726.3,767.4 1728.2,787.2 1729.5,772.2 1731.4,780.1 1733.5,790.3 1735.8,777.4 1739,797.9 1741.7,786.4 1744.1,782.1 1746.9,792.2 1748.5,791.1 1750.5,778.5 1752.9,778 1755.6,784 1758,775.8 1760.3,777.4 1764.3,782.7 1768.7,786.9 1770.9,781.6 1773,784 1776.1,783.2 1778.2,776.4 1780.9,778.5 1783.3,771.7 1787.2,766.9 1790.4,771 1792,768.2" fill="none" stroke="#0d0d0d" stroke-width="1.9" stroke-linejoin="round" stroke-linecap="round"/>
<path d="M477.5,767.1 479,767.1 479,771.3 479.9,771.3 479.9,770.6 480.8,770.6 480.8,772.5 482.3,772.5 482.3,771 483.5,771 483.5,772.3 484.4,772.3 484.4,770.4 485.6,770.4 485.6,771.4 487.1,771.4 487.1,775.6 488.1,775.6 488.1,776.7 489.5,776.7 489.5,780 490.9,780 490.9,778.3 491.8,778.3 491.8,782.7 493.3,782.7 493.3,782 494.2,782 494.2,786.5 495.2,786.5 495.2,784.1 496.1,784.1 496.1,786.3 497.2,786.3 497.2,798.1 498.6,798.1 498.6,793.1 499.9,793.1 499.9,800.4 500.8,800.4 500.8,787.8 502.3,787.8 502.3,797 503.3,797 503.3,794.8 504.6,794.8 504.6,788.4 506,788.4 506,788.3 507,788.3 507,780.5 508.3,780.5 508.3,782.6 509.5,782.6 509.5,787.6 510.9,787.6 510.9,786.5 511.9,786.5 511.9,790.1 513,790.1 513,798.6 513.9,798.6 513.9,792.8 515.2,792.8 515.2,793.1 516.3,793.1 516.3,792.6 517.6,792.6 517.6,776.2 518.7,776.2 518.7,785.4 519.8,785.4 519.8,775.9 521,775.9 521,774.5 522.5,774.5 522.5,769.4 523.7,769.4 523.7,772.4 524.5,772.4 524.5,770.2 525.8,770.2 525.8,767 526.8,767 526.8,764.1 528,764.1 528,775.8 529,775.8 529,761.2 530.2,761.2 530.2,756.1 531.6,756.1 531.6,771.7 532.7,771.7 532.7,764.2 534,764.2 534,775.8 534.9,775.8 534.9,766.5 536.2,766.5 536.2,773.6 537.3,773.6 537.3,766.1 538.3,766.1 538.3,766.2 539.7,766.2 539.7,766.9 540.8,766.9 540.8,765 541.8,765 541.8,769 543.1,769 543.1,764.3 544.5,764.3 544.5,763.7 545.8,763.7 545.8,768.5 547.3,768.5 547.3,772.2 548.6,772.2 548.6,778.1 550.1,778.1 550.1,774.9 551.1,774.9 551.1,771.6 552.3,771.6 552.3,775.7 553.7,775.7 553.7,769.6 554.7,769.6 554.7,778.7 556.1,778.7 556.1,776 557,776 557,783.8 558.3,783.8 558.3,782.9 559.7,782.9 559.7,779.6 561.2,779.6 561.2,786.9 562.4,786.9 562.4,784.2 563.5,784.2 563.5,775.2 564.7,775.2 564.7,788 565.8,788 565.8,780 566.9,780 566.9,782.4 568.4,782.4 568.4,777 569.7,777 569.7,784.1 570.6,784.1 570.6,776.2 571.8,776.2 571.8,784.3 573,784.3 573,773.4 574.4,773.4 574.4,773.7 575.7,773.7 575.7,777.4 576.7,777.4 576.7,780.5 577.7,780.5 577.7,773.9 579.1,773.9 579.1,787 579.9,787 579.9,772 581.1,772 581.1,777.7 582.1,777.7 582.1,774.1 583.3,774.1 583.3,772.9 584.7,772.9 584.7,774.6 585.9,774.6 585.9,769.4 587,769.4 587,766.2 588,766.2 588,764.7 589,764.7 589,759.4 590.3,759.4 590.3,763.7 591.5,763.7 591.5,761.1 592.9,761.1 592.9,753 594.3,753 594.3,757.5 595.6,757.5 595.6,751.5 596.5,751.5 596.5,762.9 597.8,762.9 597.8,762.3 599,762.3 599,765.7 600.4,765.7 600.4,763.2 601.5,763.2 601.5,761.9 602.5,761.9 602.5,767.9 604,767.9 604,762.2 605.2,762.2 605.2,773.4 606.1,773.4 606.1,766.6 607.6,766.6 607.6,774.6 608.7,774.6 608.7,774.4 609.7,774.4 609.7,777.4 610.7,777.4 610.7,780.2 612.2,780.2 612.2,776.9 613.3,776.9 613.3,782.4 614.6,782.4 614.6,777.2 615.9,777.2 615.9,785.4 617.1,785.4 617.1,782.9 618.2,782.9 618.2,785.9 619.7,785.9 619.7,781.9 620.6,781.9 620.6,783.8 621.9,783.8 621.9,771.4 623.3,771.4 623.3,777.2 624.1,777.2 624.1,777.6 625.4,777.6 625.4,783.3 626.6,783.3 626.6,774.2 627.6,774.2 627.6,783.4 629,783.4 629,781.4 630.1,781.4 630.1,783.6 631.2,783.6 631.2,784.7 632.3,784.7 632.3,789.6 633.5,789.6 633.5,787.9 634.9,787.9 634.9,793 636.2,793 636.2,793 637.3,793 637.3,792 638.7,792 638.7,795.9 640.1,795.9 640.1,788.7 641.1,788.7 641.1,793.3 642.2,793.3 642.2,783.4 643.6,783.4 643.6,785.3 645,785.3 645,780.8 646.5,780.8 646.5,781.1 647.7,781.1 647.7,773.8 648.6,773.8 648.6,784 649.9,784 649.9,772 651,772 651,780.3 652.2,780.3 652.2,770.7 653.5,770.7 653.5,774.3 654.9,774.3 654.9,775.5 656.3,775.5 656.3,774.5 657.6,774.5 657.6,776.2 658.7,776.2 658.7,772.3 659.6,772.3 659.6,772.4 660.8,772.4 660.8,778 661.8,778 661.8,770.3 662.8,770.3 662.8,776.2 663.8,776.2 663.8,766.4 665.3,766.4 665.3,777.7 666.4,777.7 666.4,771.4 667.6,771.4 667.6,773.7 668.9,773.7 668.9,772.5 670.2,772.5 670.2,777 671.3,777 671.3,766.8 672.3,766.8 672.3,765.5 673.2,765.5 673.2,776 674.5,776 674.5,768.8 675.9,768.8 675.9,772.1 677.4,772.1 677.4,766.8 678.6,766.8 678.6,780.5 679.5,780.5 679.5,773 680.6,773 680.6,779.1 682,779.1 682,774.4 683.3,774.4 683.3,779.5 684.6,779.5 684.6,774.1 685.7,774.1 685.7,779.8 686.8,779.8 686.8,776.1 688.2,776.1 688.2,780.3 689.2,780.3 689.2,775.6 690.1,775.6 690.1,779.6 691.1,779.6 691.1,776.4 692.5,776.4 692.5,775.4 693.6,775.4 693.6,778.8 694.7,778.8 694.7,782.6 695.6,782.6 695.6,780.4 696.5,780.4 696.5,786 697.5,786 697.5,782.2 698.6,782.2 698.6,785.6 699.9,785.6 699.9,792.8 701.1,792.8 701.1,791.6 702.2,791.6 702.2,796.3 703.1,796.3 703.1,777.4 704.3,777.4 704.3,791.2 705.7,791.2 705.7,786.2 706.7,786.2 706.7,785.7 707.9,785.7 707.9,780.1 709.2,780.1 709.2,781.5 710.3,781.5 710.3,778.7 711.2,778.7 711.2,778.3 712.4,778.3 712.4,770.4 713.7,770.4 713.7,773.4 714.9,773.4 714.9,769.6 716,769.6 716,761.1 717.2,761.1 717.2,761.4 718.3,761.4 718.3,757.3 719.6,757.3 719.6,758.2 720.8,758.2 720.8,755 722,755 722,753.3 723.1,753.3 723.1,754.5 724.5,754.5 724.5,750.6 725.5,750.6 725.5,757.9 726.4,757.9 726.4,756.9 727.4,756.9 727.4,756.5 728.9,756.5 728.9,758.9 729.7,758.9 729.7,760.1 731.2,760.1 731.2,766 732.6,766 732.6,764.6 733.8,764.6 733.8,769 734.8,769 734.8,773.5 736.1,773.5 736.1,771.2 737.4,771.2 737.4,769.6 738.4,769.6 738.4,774.5 739.7,774.5 739.7,770.9 741.1,770.9 741.1,780.8 742.1,780.8 742.1,772.4 743.2,772.4 743.2,769.7 744.3,769.7 744.3,776.8 745.6,776.8 745.6,767.5 747.1,767.5 747.1,772.8 748.2,772.8 748.2,772.9 749.3,772.9 749.3,775.1 750.5,775.1 750.5,769.5 751.8,769.5 751.8,777.9 752.9,777.9 752.9,773.9 753.9,773.9 753.9,776.6 755.2,776.6 755.2,772.7 756,772.7 756,782.5 757.1,782.5 757.1,777.4 758.4,777.4 758.4,782.3 759.3,782.3 759.3,783.2 760.2,783.2 760.2,777.3 761.2,777.3 761.2,783.7 762.3,783.7 762.3,782.3 763.4,782.3 763.4,783.7 764.3,783.7 764.3,780.7 765.4,780.7 765.4,782.1 766.7,782.1 766.7,776.4 768,776.4 768,784.3 769.4,784.3 769.4,773.5 770.7,773.5 770.7,785.1 772.1,785.1 772.1,771.7 773.2,771.7 773.2,775.8 774.2,775.8 774.2,773.4 775.2,773.4 775.2,771.5 776.3,771.5 776.3,764.5 777.4,764.5 777.4,767.5 778.7,767.5 778.7,756.8 780.1,756.8 780.1,766.5 781.2,766.5 781.2,757.8 782.3,757.8 782.3,757.8 783.1,757.8 783.1,754.6 784.2,754.6 784.2,754.7 785.5,754.7 785.5,748.8 786.6,748.8 786.6,749.9 787.6,749.9 787.6,744.1 788.5,744.1 788.5,745.7 789.7,745.7 789.7,749 791,749 791,758.4 792.2,758.4 792.2,754.6 793.2,754.6 793.2,760.7 794.2,760.7 794.2,758.9 795.2,758.9 795.2,767.6 796.6,767.6 796.6,764.9 797.4,764.9 797.4,770.1 798.5,770.1 798.5,761 799.9,761 799.9,765.5 801.2,765.5 801.2,773.2 802.6,773.2 802.6,773.3 803.7,773.3 803.7,768 805.1,768 805.1,772.9 806.6,772.9 806.6,772.6 807.9,772.6 807.9,777.3 809.1,777.3 809.1,773.1 810.3,773.1 810.3,771.8 811.3,771.8 811.3,770.1 812.8,770.1 812.8,772.1 813.9,772.1 813.9,770.2 814.9,770.2 814.9,773.1 815.8,773.1 815.8,768.4 816.7,768.4 816.7,772.5 818.1,772.5 818.1,772.3 819.5,772.3 819.5,780.7 820.6,780.7 820.6,777.2 821.8,777.2 821.8,783.7 822.7,783.7 822.7,781.2 823.7,781.2 823.7,790.2 825,790.2 825,790.2 826.4,790.2 826.4,784.7 827.5,784.7 827.5,783.3 828.5,783.3 828.5,781.7 829.9,781.7 829.9,778.9 831.2,778.9 831.2,775.5 832.5,775.5 832.5,771.6 834,771.6 834,770.6 835.2,770.6 835.2,764.7 836.2,764.7 836.2,765.8 837.6,765.8 837.6,767.1 838.8,767.1 838.8,756.9 840.2,756.9 840.2,761.6 841.5,761.6 841.5,751.2 842.6,751.2 842.6,749 843.5,749 843.5,752.7 844.5,752.7 844.5,748.8 846,748.8 846,747.4 847.1,747.4 847.1,753.1 848.6,753.1 848.6,751.6 850,751.6 850,756.3 851.1,756.3 851.1,754.6 852.2,754.6 852.2,757.8 853.1,757.8 853.1,755.6 854.4,755.6 854.4,760.1 855.5,760.1 855.5,763 856.7,763 856.7,760.8 857.7,760.8 857.7,767.6 858.7,767.6 858.7,768 859.8,768 859.8,771.2 861.3,771.2 861.3,766.4 862.5,766.4 862.5,770.9 863.7,770.9 863.7,765.1 865,765.1 865,769 866.2,769 866.2,765.4 867.5,765.4 867.5,767.1 868.7,767.1 868.7,763.2 870,763.2 870,771.4 871.2,771.4 871.2,771.8 872.6,771.8 872.6,769.6 874,769.6 874,773.8 875.2,773.8 875.2,773.8 876.1,773.8 876.1,780.6 877.1,780.6 877.1,775.8 878.5,775.8 878.5,782.8 879.3,782.8 879.3,784.6 880.4,784.6 880.4,784.6 881.3,784.6 881.3,781.4 882.3,781.4 882.3,784.3 883.4,784.3 883.4,783 884.3,783 884.3,787.7 885.3,787.7 885.3,788.3 886.8,788.3 886.8,793 887.8,793 887.8,788.4 888.9,788.4 888.9,796 890,796 890,797.5 891.1,797.5 891.1,793.6 892.5,793.6 892.5,794.6 893.6,794.6 893.6,784.3 894.7,784.3 894.7,783.9 896.1,783.9 896.1,777.5 897.5,777.5 897.5,772.6 898.4,772.6 898.4,781.9 899.7,781.9 899.7,771.7 900.8,771.7 900.8,778.4 902.1,778.4 902.1,769 903.5,769 903.5,773.4 904.4,773.4 904.4,770.9 905.4,770.9 905.4,776.4 906.7,776.4 906.7,769.3 907.7,769.3 907.7,769.2 908.7,769.2 908.7,771.5 909.5,771.5 909.5,762.8 910.4,762.8 910.4,769.7 911.4,769.7 911.4,764.9 912.7,764.9 912.7,766.6 914,766.6 914,764.8 915.4,764.8 915.4,764.3 916.8,764.3 916.8,758.1 917.7,758.1 917.7,765.6 918.6,765.6 918.6,765.1 919.9,765.1 919.9,768.6 920.8,768.6 920.8,770.7 922.1,770.7 922.1,770.5 923.2,770.5 923.2,772.1 924.2,772.1 924.2,777.9 925.1,777.9 925.1,774.3 926.3,774.3 926.3,767.7 927.5,767.7 927.5,759.1 928.4,759.1 928.4,752.9 929.4,752.9 929.4,754.3 930.7,754.3 930.7,762.2 931.6,762.2 931.6,765.4 932.9,765.4 932.9,773.5 933.8,773.5 933.8,775.6 934.9,775.6 934.9,786.6 935.8,786.6 935.8,780 937,780 937,782.1 938.4,782.1 938.4,776.2 939.8,776.2 939.8,776.7 941,776.7 941,773.6 942.3,773.6 942.3,778.9 943.2,778.9 943.2,783.7 944.4,783.7 944.4,785.2 945.4,785.2 945.4,782.9 946.5,782.9 946.5,793.9 947.6,793.9 947.6,790.4 948.6,790.4 948.6,793.9 949.8,793.9 949.8,786.4 951.2,786.4 951.2,786 952.5,786 952.5,782.3 953.7,782.3 953.7,792.1 954.8,792.1 954.8,781.2 956.3,781.2 956.3,775.5 957.3,775.5 957.3,780.8 958.6,780.8 958.6,777.7 959.9,777.7 959.9,778.7 960.9,778.7 960.9,777.3 962.3,777.3 962.3,769.5 963.8,769.5 963.8,777 964.8,777 964.8,772.8 965.9,772.8 965.9,774.9 966.9,774.9 966.9,772.1 968.3,772.1 968.3,765.7 969.6,765.7 969.6,764.9 970.5,764.9 970.5,758.6 971.6,758.6 971.6,764.6 972.8,764.6 972.8,756.2 974,756.2 974,757.5 975.3,757.5 975.3,752.4 976.5,752.4 976.5,761.5 978,761.5 978,753.6 979.2,753.6 979.2,758.9 980.4,758.9 980.4,752.5 981.6,752.5 981.6,758.9 982.5,758.9 982.5,760.3 984,760.3 984,751.7 984.8,751.7 984.8,760.7 986.3,760.7 986.3,752.6 987.2,752.6 987.2,760.4 988.6,760.4 988.6,760 989.9,760 989.9,760.4 991.3,760.4 991.3,771.3 992.1,771.3 992.1,769 993.4,769 993.4,774.6 994.4,774.6 994.4,769.9 995.4,769.9 995.4,768.6 996.4,768.6 996.4,774.1 997.7,774.1 997.7,770.6 998.6,770.6 998.6,781.2 999.7,781.2 999.7,771.9 1000.8,771.9 1000.8,778.8 1001.9,778.8 1001.9,777.1 1003.1,777.1 1003.1,775.7 1004.5,775.7 1004.5,771.1 1006,771.1 1006,782 1007.5,782 1007.5,779.8 1008.9,779.8 1008.9,780.2 1009.9,780.2 1009.9,784.5 1011,784.5 1011,783.7 1012.2,783.7 1012.2,786.2 1013.7,786.2 1013.7,783 1015.1,783 1015.1,791.4 1016.3,791.4 1016.3,777.9 1017.7,777.9 1017.7,781.9 1019.2,781.9 1019.2,775.6 1020.2,775.6 1020.2,772.8 1021.2,772.8 1021.2,767.8 1022,767.8 1022,767.6 1023.3,767.6 1023.3,759.9 1024.7,759.9 1024.7,761.7 1025.9,761.7 1025.9,745.3 1027.3,745.3 1027.3,761 1028.3,761 1028.3,751.7 1029.8,751.7 1029.8,754.3 1030.9,754.3 1030.9,753.9 1031.7,753.9 1031.7,758.5 1033,758.5 1033,753.6 1034.5,753.6 1034.5,761.4 1035.8,761.4 1035.8,747.1 1037,747.1 1037,760.7 1038.2,760.7 1038.2,752.5 1039.2,752.5 1039.2,751.8 1040.6,751.8 1040.6,757.5 1042,757.5 1042,761.2 1043,761.2 1043,766.3 1044.3,766.3 1044.3,764.5 1045.2,764.5 1045.2,768 1046.1,768 1046.1,768.4 1047.4,768.4 1047.4,765 1048.7,765 1048.7,773.6 1050,773.6 1050,770.1 1051.4,770.1 1051.4,770.3 1052.7,770.3 1052.7,769.8 1054,769.8 1054,766.7 1055.4,766.7 1055.4,773.2 1056.5,773.2 1056.5,770.3 1057.4,770.3 1057.4,770.1 1058.3,770.1 1058.3,775.4 1059.2,775.4 1059.2,772.7 1060.4,772.7 1060.4,777 1061.8,777 1061.8,780.1 1063.1,780.1 1063.1,781.1 1064.3,781.1 1064.3,782.9 1065.2,782.9 1065.2,792.4 1066.6,792.4 1066.6,775.8 1067.7,775.8 1067.7,790.9 1069.1,790.9 1069.1,783.5 1070.1,783.5 1070.1,796.2 1071.2,796.2 1071.2,792.5 1072.1,792.5 1072.1,794.5 1073,794.5 1073,787.5 1074.2,787.5 1074.2,799.3 1075.1,799.3 1075.1,788.1 1076.2,788.1 1076.2,780.4 1077.5,780.4 1077.5,783.5 1078.8,783.5 1078.8,774.9 1079.9,774.9 1079.9,780.8 1081.4,780.8 1081.4,760.2 1082.7,760.2 1082.7,766 1083.9,766 1083.9,768.1 1085.1,768.1 1085.1,759.5 1086.4,759.5 1086.4,752.9 1087.5,752.9 1087.5,756.9 1088.9,756.9 1088.9,766.4 1090.2,766.4 1090.2,758.5 1091.4,758.5 1091.4,770.1 1092.8,770.1 1092.8,759.6 1094,759.6 1094,772.3 1095.4,772.3 1095.4,754.6 1096.7,754.6 1096.7,761.3 1097.9,761.3 1097.9,769 1099.2,769 1099.2,766.1 1100.2,766.1 1100.2,772.9 1101.2,772.9 1101.2,765.8 1102.2,765.8 1102.2,764.6 1103.2,764.6 1103.2,769.2 1104.6,769.2 1104.6,761 1106,761 1106,760.4 1107.1,760.4 1107.1,768.6 1108.1,768.6 1108.1,761.6 1109.2,761.6 1109.2,768.5 1110.2,768.5 1110.2,775 1111.6,775 1111.6,768.7 1112.5,768.7 1112.5,779.2 1113.7,779.2 1113.7,784.2 1114.9,784.2 1114.9,777.3 1115.8,777.3 1115.8,777.9 1116.8,777.9 1116.8,771.9 1117.9,771.9 1117.9,774.3 1119,774.3 1119,771.4 1120.4,771.4 1120.4,770.9 1121.6,770.9 1121.6,770.3 1122.7,770.3 1122.7,772.6 1124.1,772.6 1124.1,780.6 1125.1,780.6 1125.1,780.3 1126.6,780.3 1126.6,776.8 1127.9,776.8 1127.9,776.6 1129.3,776.6 1129.3,782 1130.8,782 1130.8,783.2 1132.3,783.2 1132.3,786 1133.3,786 1133.3,779.6 1134.4,779.6 1134.4,787.4 1135.4,787.4 1135.4,780.9 1136.6,780.9 1136.6,784.9 1137.4,784.9 1137.4,784.8 1138.5,784.8 1138.5,777.4 1139.7,777.4 1139.7,782.4 1140.6,782.4 1140.6,776 1141.5,776 1141.5,781.9 1142.9,781.9 1142.9,773.2 1144.3,773.2 1144.3,776.7 1145.7,776.7 1145.7,761.6 1146.7,761.6 1146.7,764.1 1147.7,764.1 1147.7,756.3 1149.1,756.3 1149.1,758 1150,758 1150,755.1 1150.9,755.1 1150.9,753 1152.2,753 1152.2,753.9 1153.3,753.9 1153.3,757.9 1154.2,757.9 1154.2,759 1155.4,759 1155.4,755.5 1156.3,755.5 1156.3,753.3 1157.1,753.3 1157.1,758.3 1158.5,758.3 1158.5,756.8 1159.5,756.8 1159.5,765.1 1160.4,765.1 1160.4,759.9 1161.4,759.9 1161.4,761.3 1162.6,761.3 1162.6,757.2 1164,757.2 1164,766.5 1165.1,766.5 1165.1,758.5 1166.6,758.5 1166.6,759.7 1167.9,759.7 1167.9,773.4 1169.3,773.4 1169.3,754.1 1170.4,754.1 1170.4,766.5 1171.6,766.5 1171.6,766.4 1172.6,766.4 1172.6,763.4 1173.9,763.4 1173.9,775.6 1174.9,775.6 1174.9,769.4 1175.9,769.4 1175.9,772.1 1177.1,772.1 1177.1,766.2 1178,766.2 1178,779 1179.3,779 1179.3,778 1180.7,778 1180.7,779.8 1182,779.8 1182,780.4 1183.4,780.4 1183.4,785.7 1184.5,785.7 1184.5,787.8 1185.8,787.8 1185.8,782.2 1187.2,782.2 1187.2,785.3 1188.3,785.3 1188.3,783.1 1189.2,783.1 1189.2,782 1190.5,782 1190.5,783.5 1191.9,783.5 1191.9,782.4 1193.2,782.4 1193.2,777.7 1194,777.7 1194,778.8 1195.2,778.8 1195.2,775.5 1196.7,775.5 1196.7,769.5 1197.9,769.5 1197.9,772.9 1199,772.9 1199,770.1 1200.2,770.1 1200.2,772.6 1201.4,772.6 1201.4,769.5 1202.5,769.5 1202.5,763.4 1203.4,763.4 1203.4,768 1204.3,768 1204.3,761.6 1205.8,761.6 1205.8,763.2 1206.7,763.2 1206.7,755.4 1207.7,755.4 1207.7,753.4 1208.7,753.4 1208.7,759.6 1210.2,759.6 1210.2,756 1211.6,756 1211.6,758 1213.1,758 1213.1,765.3 1214.2,765.3 1214.2,756.2 1215.5,756.2 1215.5,765.2 1216.4,765.2 1216.4,756.3 1217.5,756.3 1217.5,766.9 1218.4,766.9 1218.4,770.2 1219.8,770.2 1219.8,764.3 1220.9,764.3 1220.9,772.2 1222.3,772.2 1222.3,761.3 1223.4,761.3 1223.4,763.4 1224.9,763.4 1224.9,756.1 1225.8,756.1 1225.8,754 1226.8,754 1226.8,759.2 1227.8,759.2 1227.8,760.5 1229,760.5 1229,756.3 1230,756.3 1230,768.9 1231.2,768.9 1231.2,773.3 1232.3,773.3 1232.3,772.2 1233.2,772.2 1233.2,767.8 1234.1,767.8 1234.1,771 1235.6,771 1235.6,776.1 1236.7,776.1 1236.7,774.6 1237.9,774.6 1237.9,778.3 1239.3,778.3 1239.3,785 1240.7,785 1240.7,778.6 1242,778.6 1242,786.5 1242.8,786.5 1242.8,774.7 1243.7,774.7 1243.7,782.9 1244.9,782.9 1244.9,778.5 1246.2,778.5 1246.2,778.5 1247,778.5 1247,780.8 1248,780.8 1248,780.5 1249.4,780.5 1249.4,782.6 1250.5,782.6 1250.5,779.9 1251.5,779.9 1251.5,780.4 1252.6,780.4 1252.6,779.1 1253.9,779.1 1253.9,780.5 1254.8,780.5 1254.8,782.4 1256.2,782.4 1256.2,776.7 1257.3,776.7 1257.3,782.3 1258.3,782.3 1258.3,775.3 1259.3,775.3 1259.3,777.6 1260.6,777.6 1260.6,772.4 1261.7,772.4 1261.7,769.6 1263,769.6 1263,773.5 1264.5,773.5 1264.5,769.4 1265.9,769.4 1265.9,772.7 1267.3,772.7 1267.3,771.2 1268.7,771.2 1268.7,773.3 1269.7,773.3 1269.7,765.8 1270.9,765.8 1270.9,773.4 1271.9,773.4 1271.9,768.7 1272.9,768.7 1272.9,769.5 1273.9,769.5 1273.9,766.6 1275,766.6 1275,768.1 1276.4,768.1 1276.4,772.6 1277.7,772.6 1277.7,763.4 1279,763.4 1279,763.6 1280.4,763.6 1280.4,764.4 1281.7,764.4 1281.7,761.4 1282.6,761.4 1282.6,765.8 1283.8,765.8 1283.8,759.5 1285.1,759.5 1285.1,758.7 1286,758.7 1286,761.3 1286.9,761.3 1286.9,765.3 1288.3,765.3 1288.3,763.5 1289.2,763.5 1289.2,772.2 1290.4,772.2 1290.4,763.2 1291.4,763.2 1291.4,770.7 1292.6,770.7 1292.6,768.7 1293.6,768.7 1293.6,778 1294.6,778 1294.6,769.8 1296.1,769.8 1296.1,766.7 1297.4,766.7 1297.4,771.2 1298.5,771.2 1298.5,765.7 1299.5,765.7 1299.5,764.4 1300.9,764.4 1300.9,764.5 1302.2,764.5 1302.2,762 1303.3,762 1303.3,771.1 1304.6,771.1 1304.6,765.9 1306.1,765.9 1306.1,772.6 1307.1,772.6 1307.1,768.6 1308.2,768.6 1308.2,774.5 1309.3,774.5 1309.3,768.8 1310.5,768.8 1310.5,774.4 1311.6,774.4 1311.6,769 1312.9,769 1312.9,774.8 1314.3,774.8 1314.3,776.5 1315.7,776.5 1315.7,780.1 1317.1,780.1 1317.1,780.4 1318.6,780.4 1318.6,769.2 1319.4,769.2 1319.4,777.6 1320.7,777.6 1320.7,772.6 1321.6,772.6 1321.6,777.6 1322.6,777.6 1322.6,778.7 1323.7,778.7 1323.7,773.5 1324.9,773.5 1324.9,774.9 1326.2,774.9 1326.2,768.9 1327.1,768.9 1327.1,770.9 1328.6,770.9 1328.6,767.3 1329.6,767.3 1329.6,765.1 1331,765.1 1331,765.7 1332.1,765.7 1332.1,768.4 1333.5,768.4 1333.5,763.7 1334.4,763.7 1334.4,765.3 1335.9,765.3 1335.9,762 1336.8,762 1336.8,758.5 1337.9,758.5 1337.9,758.2 1339.2,758.2 1339.2,754.8 1340.3,754.8 1340.3,753.2 1341.3,753.2 1341.3,757 1342.4,757 1342.4,751.9 1343.7,751.9 1343.7,753.2 1344.9,753.2 1344.9,749.6 1345.8,749.6 1345.8,746 1346.9,746 1346.9,750.1 1347.8,750.1 1347.8,744.2 1349.1,744.2 1349.1,742.3 1350.1,742.3 1350.1,748.3 1351.3,748.3 1351.3,749.3 1352.1,749.3 1352.1,748.3 1353.2,748.3 1353.2,755.6 1354.4,755.6 1354.4,757.2 1355.4,757.2 1355.4,755.6 1356.6,755.6 1356.6,761.7 1358,761.7 1358,762.8 1358.9,762.8 1358.9,761.9 1359.8,761.9 1359.8,768.2 1360.7,768.2 1360.7,766.7 1361.6,766.7 1361.6,767.8 1362.5,767.8 1362.5,764.6 1363.8,764.6 1363.8,773.9 1364.7,773.9 1364.7,768 1366,768 1366,767.3 1367.4,767.3 1367.4,771.9 1368.7,771.9 1368.7,771.5 1370.2,771.5 1370.2,779.8 1371.2,779.8 1371.2,777.1 1372.2,777.1 1372.2,785.1 1373.1,785.1 1373.1,780.7 1374.2,780.7 1374.2,783.5 1375.3,783.5 1375.3,781.3 1376.4,781.3 1376.4,782.7 1377.9,782.7 1377.9,776.6 1379.1,776.6 1379.1,776.5 1380.3,776.5 1380.3,777.1 1381.5,777.1 1381.5,774.4 1382.5,774.4 1382.5,771.3 1383.3,771.3 1383.3,764.5 1384.8,764.5 1384.8,763.7 1385.8,763.7 1385.8,761.4 1386.9,761.4 1386.9,759.4 1387.8,759.4 1387.8,754.9 1388.7,754.9 1388.7,753.8 1390.1,753.8 1390.1,751.7 1391.4,751.7 1391.4,755.3 1392.6,755.3 1392.6,752.2 1393.9,752.2 1393.9,753.1 1395.1,753.1 1395.1,748.8 1396.4,748.8 1396.4,751.5 1397.9,751.5 1397.9,759.4 1399,759.4 1399,756.7 1400.1,756.7 1400.1,761 1401.3,761 1401.3,755 1402.5,755 1402.5,762.7 1403.5,762.7 1403.5,758 1404.8,758 1404.8,769.4 1406.2,769.4 1406.2,763.1 1407.7,763.1 1407.7,770 1408.5,770 1408.5,762.2 1409.9,762.2 1409.9,770.7 1411.2,770.7 1411.2,764.7 1412.6,764.7 1412.6,767.9 1413.7,767.9 1413.7,771.1 1414.9,771.1 1414.9,768.2 1415.8,768.2 1415.8,757.8 1416.7,757.8 1416.7,763.8 1417.6,763.8 1417.6,764.3 1418.7,764.3 1418.7,765.7 1419.9,765.7 1419.9,761.9 1420.9,761.9 1420.9,768 1422.1,768 1422.1,768.2 1423.1,768.2 1423.1,763.1 1424.1,763.1 1424.1,765.7 1425.1,765.7 1425.1,770.2 1426.4,770.2 1426.4,771.2 1427.3,771.2 1427.3,771 1428.7,771 1428.7,774.1 1429.5,774.1 1429.5,774 1430.6,774 1430.6,774.7 1432,774.7 1432,774.7 1433.2,774.7 1433.2,780.6 1434.5,780.6 1434.5,777.9 1435.6,777.9 1435.6,785 1436.8,785 1436.8,780.8 1438.3,780.8 1438.3,785.9 1439.2,785.9 1439.2,774.6 1440.2,774.6 1440.2,784.6 1441.7,784.6 1441.7,780.1 1443,780.1 1443,771.8 1443.9,771.8 1443.9,767.7 1445,767.7 1445,771.9 1446.3,771.9 1446.3,772 1447.6,772 1447.6,762.1 1448.7,762.1 1448.7,768.8 1449.9,768.8 1449.9,763 1451.1,763 1451.1,766.3 1452.5,766.3 1452.5,762.3 1453.9,762.3 1453.9,761.6 1455.2,761.6 1455.2,751.4 1456.7,751.4 1456.7,757.6 1457.9,757.6 1457.9,749.1 1459.3,749.1 1459.3,756.9 1460.5,756.9 1460.5,751.7 1461.8,751.7 1461.8,758.9 1463,758.9 1463,750.8 1464.4,750.8 1464.4,756.8 1465.4,756.8 1465.4,754.6 1466.7,754.6 1466.7,753 1468,753 1468,758.9 1469.3,758.9 1469.3,759.3" fill="none" stroke="#0d0d0d" stroke-width="1.55" stroke-linejoin="miter"/>
<path d="M279.2 819.9h3.7v17h-3.7zM1024 820.9h3.8v17h-3.8zM1088.2 820.9h3.8v17h-3.8zM1325 820.9h3.8v17h-3.8zM1451 820.9h3.8v17h-3.8zM1613.4 819.8h3.7v17h-3.7zM1618.8 819.8h3.7v17h-3.7zM1624.2 819.8h3.8v17h-3.8z" fill="#e8501e"/>
<path d="M295.2 841.4h3.7v17h-3.7zM311.2 841.4h3.7v17h-3.7zM318.8 841.4h3.7v17h-3.7zM336 841.4h3.7v17h-3.7zM1453.4 842.4h6.6v17h-6.6zM1598.5 841.3h3.7v17h-3.7zM1614.5 841.3h3.7v17h-3.7z" fill="#ff8820"/>
<path d="M268.8 862.9h3.7v17h-3.7zM299.1 862.9h3.7v17h-3.7zM1319.8 863.9h6.6v17h-6.6zM1332.6 863.9h3.8v17h-3.8zM1440.7 863.9h6.5v17h-6.5zM1623.1 862.8h3.7v17h-3.7zM1637.1 862.8h6.6v17h-6.6zM1649.1 862.8h3.8v17h-3.8zM1755.6 862.8h3.7v17h-3.7zM1782.5 862.8h3.7v17h-3.7z" fill="#ffc20e"/>
<path d="M276.9 884.4h3.7v17h-3.7zM291.9 884.4h3.7v17h-3.7zM1327.4 885.4h6.6v17h-6.6zM1448.3 885.4h3.7v17h-3.7zM1629.7 884.3h3.7v17h-3.7z" fill="#fff000"/>
<path d="M279.5 905.9h3.7v17h-3.7zM286.4 905.9h3.7v17h-3.7zM1327.4 906.9h3.8v17h-3.8zM1661.2 905.8h3.7v17h-3.7z" fill="#c4ee5a"/>
<path d="M1196.3 928.4h3.8v17h-3.8z" fill="#88dd82"/>
<path d="M250.2 948.9h3.7v17h-3.7zM274 948.9h3.7v17h-3.7zM592.2 949.9h6.6v17h-6.6zM1021.3 949.9h3.7v17h-3.7zM1075.1 949.9h6.6v17h-6.6zM1198.7 949.9h6.5v17h-6.5zM1250.1 949.9h3.8v17h-3.8zM1307.1 949.9h6.5v17h-6.5zM1315 949.9h3.5v17h-3.5zM1366.1 949.9h3.5v17h-3.5zM1374 949.9h3.5v17h-3.5zM1409.9 949.9h3.5v17h-3.5zM1419.9 949.9h3.8v17h-3.8zM1425.1 949.9h3.8v17h-3.8zM1517.7 948.8h3.8v17h-3.8zM1648.8 948.8h3.8v17h-3.8z" fill="#2dcca6"/>
<path d="M237.8 970.4h3.7v17h-3.7zM374.6 970.4h3.7v17h-3.7zM390.9 970.4h3.7v17h-3.7zM720.6 971.4h4.2v17h-4.2zM1024 971.4h3.8v17h-3.8zM1073 971.4h3.5v17h-3.5zM1077.9 971.4h3.8v17h-3.8zM1085.8 971.4h3.8v17h-3.8zM1185.9 971.4h3.8v17h-3.8zM1190.7 971.4h3.8v17h-3.8zM1201.4 971.4h3.8v17h-3.8zM1245.3 971.4h3.4v17h-3.4zM1250.1 971.4h3.8v17h-3.8zM1255.3 971.4h3.8v17h-3.8zM1373.7 971.4h3.8v17h-3.8zM1404.8 971.4h3.8v17h-3.8zM1655.1 970.3h3.8v17h-3.8zM1665.7 970.3h3.8v17h-3.8zM1677.8 970.3h3.7v17h-3.7zM1775.4 970.3h3.7v17h-3.7zM1781.7 970.3h3.7v17h-3.7z" fill="#00b4dc"/>
<path d="M230.2 991.9h3.7v17h-3.7zM250.2 991.9h3.7v17h-3.7zM258 991.9h3.7v17h-3.7zM592.2 992.9h6.6v17h-6.6zM723 992.9h3.8v17h-3.8zM1013.7 992.9h11.7v17h-11.7zM1067.5 992.9h3.8v17h-3.8zM1185.9 992.9h3.8v17h-3.8zM1232.2 992.9h4.1v17h-4.1zM1237.7 992.9h3.4v17h-3.4zM1250.1 992.9h3.8v17h-3.8zM1258.1 992.9h6.2v17h-6.2zM1271.2 992.9h3.4v17h-3.4zM1278.8 992.9h3.4v17h-3.4zM1301.9 992.9h3.8v17h-3.8zM1340.6 992.9h5.5v17h-5.5zM1347.1 992.9h4.2v17h-4.2zM1353 992.9h3.8v17h-3.8zM1386.8 992.9h3.8v17h-3.8zM1394.4 992.9h3.5v17h-3.5zM1407.5 992.9h3.5v17h-3.5zM1458.6 992.9h3.8v17h-3.8zM1463.8 992.9h7.2v17h-7.2zM1649.4 991.8h3.7v17h-3.7z" fill="#008ce8"/>
<path d="M216.8 1013.4h3.7v17h-3.7zM584.3 1014.4h3.8v17h-3.8zM713 1014.4h3.8v17h-3.8zM831.1 1014.4h3.8v17h-3.8zM892.8 1014.4h3.8v17h-3.8zM1008.5 1014.4h3.8v17h-3.8zM1013.7 1014.4h3.8v17h-3.8zM1060.3 1014.4h3.4v17h-3.4zM1070.3 1014.4h3.8v17h-3.8zM1121.7 1014.4h3.8v17h-3.8zM1126.9 1014.4h3.8v17h-3.8zM1160.2 1014.4h3.8v17h-3.8zM1206.6 1014.4h3.8v17h-3.8zM1227 1014.4h3.8v17h-3.8zM1289.1 1014.4h3.5v17h-3.5zM1672.9 1013.3h3.7v17h-3.7z" fill="#0050dc"/>
<path d="M219.8 1034.9h3.7v17h-3.7zM581.5 1035.9h6.6v17h-6.6zM713 1035.9h3.8v17h-3.8zM823.1 1035.9h3.8v17h-3.8zM831.1 1035.9h8.9v17h-8.9zM957 1035.9h3.8v17h-3.8zM1010.9 1035.9h3.8v17h-3.8zM1021.3 1035.9h3.7v17h-3.7zM1065.1 1035.9h3.8v17h-3.8zM1069.9 1035.9h4.2v17h-4.2zM1118.9 1035.9h3.8v17h-3.8zM1124.1 1035.9h9.3v17h-9.3zM1674 1034.8h3.8v17h-3.8z" fill="#0032c8"/>
<path d="M186.8 1056.4h3.7v17h-3.7zM573.9 1057.4h6.6v17h-6.6zM638.5 1057.4h11.4v17h-11.4zM759.6 1057.4h3.8v17h-3.8zM764.5 1057.4h3.8v17h-3.8z" fill="#0008be"/>
<path d="M227 1077.9h3.7v17h-3.7zM522.5 1078.9h3.8v17h-3.8zM563.6 1078.9h3.8v17h-3.8zM633.3 1078.9h3.4v17h-3.4zM700.3 1078.9h3.7v17h-3.7zM746.5 1078.9h3.8v17h-3.8zM802.8 1078.9h3.8v17h-3.8z" fill="#00008c"/>
<rect x="152.9" y="726" width="284.1" height="379.8" fill="none" stroke="#a0402c" stroke-width="7.6"/>
<rect x="473.3" y="726" width="1000.3" height="380.4" fill="none" stroke="#c59c08" stroke-width="7.8"/>
<rect x="1508.4" y="725.7" width="288.6" height="380.6" fill="none" stroke="#533b8e" stroke-width="7.6"/>
<text transform="translate(145.1 1138.9) scale(1.050 1)" font-size="30.5" text-anchor="start" fill="#231f20">0</text>
<text transform="translate(401.9 1138.9) scale(1.050 1)" font-size="30.5" text-anchor="start" fill="#231f20">250</text>
<text transform="translate(218 1152.8) scale(1.050 1)" font-size="30.5" text-anchor="start" fill="#231f20">Time (ms)</text>
<text transform="translate(1505.5 1138.9) scale(1.050 1)" font-size="30.5" text-anchor="start" fill="#231f20">0</text>
<text transform="translate(1762.4 1138.9) scale(1.050 1)" font-size="30.5" text-anchor="start" fill="#231f20">250</text>
<text transform="translate(1578.6 1152.8) scale(1.050 1)" font-size="30.5" text-anchor="start" fill="#231f20">Time (ms)</text>
</svg>
</body></html>
